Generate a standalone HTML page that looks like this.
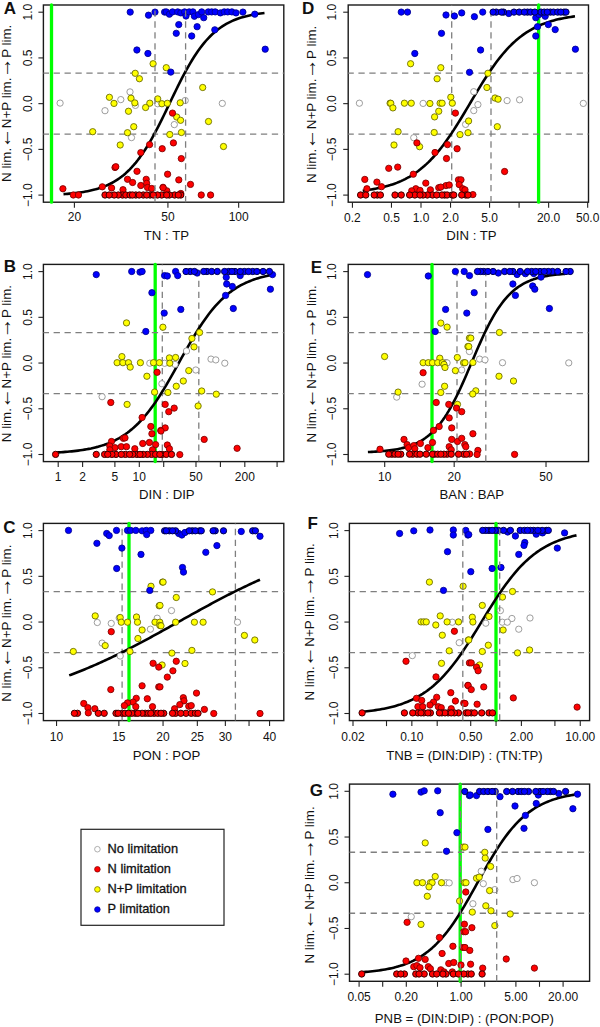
<!DOCTYPE html><html><head><meta charset="utf-8"><style>html,body{margin:0;padding:0;background:#fff;}svg{display:block}text{font-family:"Liberation Sans",sans-serif;fill:#111}</style></head><body>
<svg width="600" height="1027" viewBox="0 0 600 1027">
<rect x="43.4" y="5.0" width="240.4" height="197.2" fill="none" stroke="#1a1a1a" stroke-width="1.4"/>
<line x1="51.5" y1="5.0" x2="51.5" y2="202.2" stroke="#00ff00" stroke-width="3.3" stroke-linecap="round"/>
<line x1="43.4" y1="73.17" x2="283.8" y2="73.17" stroke="#7f7f7f" stroke-width="1.3" stroke-dasharray="6.3 4.61" stroke-dashoffset="0.7"/>
<line x1="43.4" y1="134.13" x2="283.8" y2="134.13" stroke="#7f7f7f" stroke-width="1.3" stroke-dasharray="6.3 4.61" stroke-dashoffset="0.7"/>
<polyline points="63.50,194.14 65.51,194.00 67.52,193.84 69.53,193.67 71.54,193.48 73.55,193.27 75.56,193.05 77.57,192.80 79.58,192.53 81.59,192.24 83.60,191.92 85.61,191.57 87.62,191.19 89.63,190.78 91.64,190.33 93.65,189.84 95.66,189.31 97.67,188.73 99.68,188.09 101.69,187.41 103.70,186.66 105.71,185.85 107.72,184.98 109.73,184.03 111.74,183.00 113.75,181.89 115.76,180.69 117.77,179.39 119.78,178.00 121.79,176.50 123.80,174.89 125.81,173.16 127.82,171.30 129.83,169.32 131.84,167.21 133.85,164.96 135.86,162.57 137.87,160.04 139.88,157.36 141.89,154.54 143.90,151.57 145.91,148.46 147.92,145.21 149.93,141.82 151.94,138.30 153.95,134.65 155.96,130.90 157.97,127.03 159.98,123.08 161.99,119.05 164.00,114.96 166.01,110.81 168.02,106.64 170.03,102.45 172.04,98.27 174.05,94.10 176.06,89.97 178.07,85.89 180.08,81.89 182.09,77.96 184.10,74.13 186.11,70.40 188.12,66.79 190.13,63.31 192.14,59.96 194.15,56.75 196.16,53.68 198.17,50.75 200.18,47.97 202.19,45.34 204.20,42.85 206.21,40.50 208.22,38.29 210.23,36.22 212.24,34.28 214.25,32.46 216.26,30.77 218.27,29.19 220.28,27.72 222.29,26.35 224.30,25.09 226.31,23.91 228.32,22.83 230.33,21.82 232.34,20.90 234.35,20.04 236.36,19.25 238.37,18.52 240.38,17.85 242.39,17.24 244.40,16.67 246.41,16.15 248.42,15.67 250.43,15.23 252.44,14.83 254.45,14.46 256.46,14.12 258.47,13.81 260.48,13.52 262.49,13.26 264.50,13.02" fill="none" stroke="#000" stroke-width="2.6" stroke-linecap="butt" stroke-linejoin="round"/>
<g><circle cx="130" cy="91.9" r="3.15" fill="#ffffff" stroke="#8c8c8c" stroke-width="0.85"/><circle cx="120.8" cy="99.6" r="3.15" fill="#ffffff" stroke="#8c8c8c" stroke-width="0.85"/><circle cx="60.1" cy="103.1" r="3.15" fill="#ffffff" stroke="#8c8c8c" stroke-width="0.85"/><circle cx="105" cy="110.7" r="3.15" fill="#ffffff" stroke="#8c8c8c" stroke-width="0.85"/><circle cx="135.4" cy="105.4" r="3.15" fill="#ffffff" stroke="#8c8c8c" stroke-width="0.85"/><circle cx="131.5" cy="137.6" r="3.15" fill="#ffffff" stroke="#8c8c8c" stroke-width="0.85"/><circle cx="157.7" cy="103.75" r="3.15" fill="#ffffff" stroke="#8c8c8c" stroke-width="0.85"/><circle cx="185.2" cy="100.5" r="3.15" fill="#ffffff" stroke="#8c8c8c" stroke-width="0.85"/><circle cx="222.3" cy="103.4" r="3.15" fill="#ffffff" stroke="#8c8c8c" stroke-width="0.85"/><circle cx="174.3" cy="124.6" r="3.15" fill="#ffffff" stroke="#8c8c8c" stroke-width="0.85"/><circle cx="153.1" cy="63.75" r="3.15" fill="#ffff00" stroke="#666600" stroke-width="0.85"/><circle cx="166.25" cy="67.7" r="3.15" fill="#ffff00" stroke="#666600" stroke-width="0.85"/><circle cx="135.2" cy="73.3" r="3.15" fill="#ffff00" stroke="#666600" stroke-width="0.85"/><circle cx="139.4" cy="78.75" r="3.15" fill="#ffff00" stroke="#666600" stroke-width="0.85"/><circle cx="109.4" cy="97.3" r="3.15" fill="#ffff00" stroke="#666600" stroke-width="0.85"/><circle cx="131" cy="98.2" r="3.15" fill="#ffff00" stroke="#666600" stroke-width="0.85"/><circle cx="114" cy="103.4" r="3.15" fill="#ffff00" stroke="#666600" stroke-width="0.85"/><circle cx="134.8" cy="102.9" r="3.15" fill="#ffff00" stroke="#666600" stroke-width="0.85"/><circle cx="149.8" cy="103.2" r="3.15" fill="#ffff00" stroke="#666600" stroke-width="0.85"/><circle cx="157.7" cy="98.9" r="3.15" fill="#ffff00" stroke="#666600" stroke-width="0.85"/><circle cx="161.9" cy="103.75" r="3.15" fill="#ffff00" stroke="#666600" stroke-width="0.85"/><circle cx="128.5" cy="111.25" r="3.15" fill="#ffff00" stroke="#666600" stroke-width="0.85"/><circle cx="145.6" cy="107.5" r="3.15" fill="#ffff00" stroke="#666600" stroke-width="0.85"/><circle cx="92.7" cy="131.7" r="3.15" fill="#ffff00" stroke="#666600" stroke-width="0.85"/><circle cx="133.75" cy="126.7" r="3.15" fill="#ffff00" stroke="#666600" stroke-width="0.85"/><circle cx="127.5" cy="132.7" r="3.15" fill="#ffff00" stroke="#666600" stroke-width="0.85"/><circle cx="120.2" cy="145" r="3.15" fill="#ffff00" stroke="#666600" stroke-width="0.85"/><circle cx="202.7" cy="87.5" r="3.15" fill="#ffff00" stroke="#666600" stroke-width="0.85"/><circle cx="180.2" cy="102.8" r="3.15" fill="#ffff00" stroke="#666600" stroke-width="0.85"/><circle cx="167.3" cy="103.3" r="3.15" fill="#ffff00" stroke="#666600" stroke-width="0.85"/><circle cx="176.7" cy="117" r="3.15" fill="#ffff00" stroke="#666600" stroke-width="0.85"/><circle cx="180.6" cy="120.3" r="3.15" fill="#ffff00" stroke="#666600" stroke-width="0.85"/><circle cx="208.5" cy="121.5" r="3.15" fill="#ffff00" stroke="#666600" stroke-width="0.85"/><circle cx="169.8" cy="134.5" r="3.15" fill="#ffff00" stroke="#666600" stroke-width="0.85"/><circle cx="181.4" cy="132.5" r="3.15" fill="#ffff00" stroke="#666600" stroke-width="0.85"/><circle cx="223.5" cy="146.5" r="3.15" fill="#ffff00" stroke="#666600" stroke-width="0.85"/><circle cx="62.9" cy="188.75" r="3.15" fill="#ff0000" stroke="#7a0000" stroke-width="0.85"/><circle cx="73.3" cy="195" r="3.15" fill="#ff0000" stroke="#7a0000" stroke-width="0.85"/><circle cx="78.5" cy="195" r="3.15" fill="#ff0000" stroke="#7a0000" stroke-width="0.85"/><circle cx="102.3" cy="186.8" r="3.15" fill="#ff0000" stroke="#7a0000" stroke-width="0.85"/><circle cx="111.6" cy="188" r="3.15" fill="#ff0000" stroke="#7a0000" stroke-width="0.85"/><circle cx="123" cy="189.7" r="3.15" fill="#ff0000" stroke="#7a0000" stroke-width="0.85"/><circle cx="127.5" cy="179.3" r="3.15" fill="#ff0000" stroke="#7a0000" stroke-width="0.85"/><circle cx="132.6" cy="182.5" r="3.15" fill="#ff0000" stroke="#7a0000" stroke-width="0.85"/><circle cx="137" cy="171.3" r="3.15" fill="#ff0000" stroke="#7a0000" stroke-width="0.85"/><circle cx="115" cy="167.5" r="3.15" fill="#ff0000" stroke="#7a0000" stroke-width="0.85"/><circle cx="115.8" cy="166.7" r="3.15" fill="#ff0000" stroke="#7a0000" stroke-width="0.85"/><circle cx="140.8" cy="152.6" r="3.15" fill="#ff0000" stroke="#7a0000" stroke-width="0.85"/><circle cx="149.6" cy="144.6" r="3.15" fill="#ff0000" stroke="#7a0000" stroke-width="0.85"/><circle cx="162.2" cy="148.7" r="3.15" fill="#ff0000" stroke="#7a0000" stroke-width="0.85"/><circle cx="146.2" cy="179.3" r="3.15" fill="#ff0000" stroke="#7a0000" stroke-width="0.85"/><circle cx="146.7" cy="183.3" r="3.15" fill="#ff0000" stroke="#7a0000" stroke-width="0.85"/><circle cx="140.8" cy="185.5" r="3.15" fill="#ff0000" stroke="#7a0000" stroke-width="0.85"/><circle cx="147.5" cy="187.5" r="3.15" fill="#ff0000" stroke="#7a0000" stroke-width="0.85"/><circle cx="151.7" cy="188.5" r="3.15" fill="#ff0000" stroke="#7a0000" stroke-width="0.85"/><circle cx="163" cy="187.3" r="3.15" fill="#ff0000" stroke="#7a0000" stroke-width="0.85"/><circle cx="166.8" cy="190.8" r="3.15" fill="#ff0000" stroke="#7a0000" stroke-width="0.85"/><circle cx="172.5" cy="113.1" r="3.15" fill="#ff0000" stroke="#7a0000" stroke-width="0.85"/><circle cx="173.4" cy="142.9" r="3.15" fill="#ff0000" stroke="#7a0000" stroke-width="0.85"/><circle cx="181.3" cy="158.6" r="3.15" fill="#ff0000" stroke="#7a0000" stroke-width="0.85"/><circle cx="167.6" cy="174.2" r="3.15" fill="#ff0000" stroke="#7a0000" stroke-width="0.85"/><circle cx="178.8" cy="179.9" r="3.15" fill="#ff0000" stroke="#7a0000" stroke-width="0.85"/><circle cx="190.5" cy="184.4" r="3.15" fill="#ff0000" stroke="#7a0000" stroke-width="0.85"/><circle cx="163.1" cy="187.7" r="3.15" fill="#ff0000" stroke="#7a0000" stroke-width="0.85"/><circle cx="180.8" cy="193.5" r="3.15" fill="#ff0000" stroke="#7a0000" stroke-width="0.85"/><circle cx="201.25" cy="195" r="3.15" fill="#ff0000" stroke="#7a0000" stroke-width="0.85"/><circle cx="210.6" cy="195" r="3.15" fill="#ff0000" stroke="#7a0000" stroke-width="0.85"/><circle cx="122.5" cy="195" r="3.15" fill="#ff0000" stroke="#3a0000" stroke-width="1.0"/><circle cx="118.3" cy="195" r="3.15" fill="#ff0000" stroke="#3a0000" stroke-width="1.0"/><circle cx="174.6" cy="195" r="3.15" fill="#ff0000" stroke="#3a0000" stroke-width="1.0"/><circle cx="143.3" cy="195" r="3.15" fill="#ff0000" stroke="#3a0000" stroke-width="1.0"/><circle cx="150" cy="195" r="3.15" fill="#ff0000" stroke="#3a0000" stroke-width="1.0"/><circle cx="161.7" cy="195" r="3.15" fill="#ff0000" stroke="#3a0000" stroke-width="1.0"/><circle cx="114.2" cy="195" r="3.15" fill="#ff0000" stroke="#3a0000" stroke-width="1.0"/><circle cx="105" cy="195" r="3.15" fill="#ff0000" stroke="#3a0000" stroke-width="1.0"/><circle cx="180.8" cy="195" r="3.15" fill="#ff0000" stroke="#3a0000" stroke-width="1.0"/><circle cx="169.4" cy="195" r="3.15" fill="#ff0000" stroke="#3a0000" stroke-width="1.0"/><circle cx="157.5" cy="195" r="3.15" fill="#ff0000" stroke="#3a0000" stroke-width="1.0"/><circle cx="125.8" cy="195" r="3.15" fill="#ff0000" stroke="#3a0000" stroke-width="1.0"/><circle cx="135.8" cy="195" r="3.15" fill="#ff0000" stroke="#3a0000" stroke-width="1.0"/><circle cx="166.7" cy="195" r="3.15" fill="#ff0000" stroke="#3a0000" stroke-width="1.0"/><circle cx="146.7" cy="195" r="3.15" fill="#ff0000" stroke="#3a0000" stroke-width="1.0"/><circle cx="153.3" cy="195" r="3.15" fill="#ff0000" stroke="#3a0000" stroke-width="1.0"/><circle cx="139.2" cy="195" r="3.15" fill="#ff0000" stroke="#3a0000" stroke-width="1.0"/><circle cx="109.2" cy="195" r="3.15" fill="#ff0000" stroke="#3a0000" stroke-width="1.0"/><circle cx="130" cy="195" r="3.15" fill="#ff0000" stroke="#3a0000" stroke-width="1.0"/><circle cx="178.3" cy="195" r="3.15" fill="#ff0000" stroke="#3a0000" stroke-width="1.0"/><circle cx="132.5" cy="195" r="3.15" fill="#ff0000" stroke="#3a0000" stroke-width="1.0"/><circle cx="130.2" cy="12.1" r="3.15" fill="#0000ff" stroke="#000090" stroke-width="0.85"/><circle cx="148.5" cy="15.2" r="3.15" fill="#0000ff" stroke="#000090" stroke-width="0.85"/><circle cx="155" cy="12.1" r="3.15" fill="#0000ff" stroke="#000090" stroke-width="0.85"/><circle cx="164.6" cy="12.1" r="3.15" fill="#0000ff" stroke="#000090" stroke-width="0.85"/><circle cx="136.9" cy="50" r="3.15" fill="#0000ff" stroke="#000090" stroke-width="0.85"/><circle cx="147.9" cy="53.5" r="3.15" fill="#0000ff" stroke="#000090" stroke-width="0.85"/><circle cx="166.25" cy="11.9" r="3.15" fill="#0000ff" stroke="#000090" stroke-width="0.85"/><circle cx="169.4" cy="14.2" r="3.15" fill="#0000ff" stroke="#000090" stroke-width="0.85"/><circle cx="172.5" cy="11.9" r="3.15" fill="#0000ff" stroke="#000090" stroke-width="0.85"/><circle cx="177.7" cy="11.9" r="3.15" fill="#0000ff" stroke="#000090" stroke-width="0.85"/><circle cx="180.8" cy="12.9" r="3.15" fill="#0000ff" stroke="#000090" stroke-width="0.85"/><circle cx="184.6" cy="11.9" r="3.15" fill="#0000ff" stroke="#000090" stroke-width="0.85"/><circle cx="186" cy="16" r="3.15" fill="#0000ff" stroke="#000090" stroke-width="0.85"/><circle cx="189.2" cy="11.9" r="3.15" fill="#0000ff" stroke="#000090" stroke-width="0.85"/><circle cx="192.9" cy="11.9" r="3.15" fill="#0000ff" stroke="#000090" stroke-width="0.85"/><circle cx="194.4" cy="16.25" r="3.15" fill="#0000ff" stroke="#000090" stroke-width="0.85"/><circle cx="198.5" cy="14.6" r="3.15" fill="#0000ff" stroke="#000090" stroke-width="0.85"/><circle cx="201.7" cy="11.9" r="3.15" fill="#0000ff" stroke="#000090" stroke-width="0.85"/><circle cx="203.75" cy="17.7" r="3.15" fill="#0000ff" stroke="#000090" stroke-width="0.85"/><circle cx="208.3" cy="11.9" r="3.15" fill="#0000ff" stroke="#000090" stroke-width="0.85"/><circle cx="211.7" cy="11.9" r="3.15" fill="#0000ff" stroke="#000090" stroke-width="0.85"/><circle cx="215.2" cy="11.9" r="3.15" fill="#0000ff" stroke="#000090" stroke-width="0.85"/><circle cx="220.4" cy="12.9" r="3.15" fill="#0000ff" stroke="#000090" stroke-width="0.85"/><circle cx="224.2" cy="11.9" r="3.15" fill="#0000ff" stroke="#000090" stroke-width="0.85"/><circle cx="227.7" cy="11.9" r="3.15" fill="#0000ff" stroke="#000090" stroke-width="0.85"/><circle cx="231.9" cy="11.9" r="3.15" fill="#0000ff" stroke="#000090" stroke-width="0.85"/><circle cx="236" cy="12.9" r="3.15" fill="#0000ff" stroke="#000090" stroke-width="0.85"/><circle cx="242.9" cy="12.1" r="3.15" fill="#0000ff" stroke="#000090" stroke-width="0.85"/><circle cx="254.8" cy="14.2" r="3.15" fill="#0000ff" stroke="#000090" stroke-width="0.85"/><circle cx="178.75" cy="24.6" r="3.15" fill="#0000ff" stroke="#000090" stroke-width="0.85"/><circle cx="197.1" cy="26.7" r="3.15" fill="#0000ff" stroke="#000090" stroke-width="0.85"/><circle cx="176.25" cy="33.3" r="3.15" fill="#0000ff" stroke="#000090" stroke-width="0.85"/><circle cx="191.7" cy="36" r="3.15" fill="#0000ff" stroke="#000090" stroke-width="0.85"/><circle cx="214.8" cy="29.8" r="3.15" fill="#0000ff" stroke="#000090" stroke-width="0.85"/><circle cx="265.2" cy="49.2" r="3.15" fill="#0000ff" stroke="#000090" stroke-width="0.85"/><circle cx="170.8" cy="72.1" r="3.15" fill="#0000ff" stroke="#000090" stroke-width="0.85"/></g>
<line x1="155.0" y1="202.2" x2="155.0" y2="5.0" stroke="#7f7f7f" stroke-width="1.3" stroke-dasharray="6.3 4.61" stroke-dashoffset="0"/>
<line x1="185.6" y1="202.2" x2="185.6" y2="5.0" stroke="#7f7f7f" stroke-width="1.3" stroke-dasharray="6.3 4.61" stroke-dashoffset="0"/>
<line x1="38.4" y1="12.20" x2="43.4" y2="12.20" stroke="#222" stroke-width="1.1"/>
<text transform="translate(31.65,12.20) rotate(-90)" text-anchor="middle" font-size="12">1.0</text>
<line x1="38.4" y1="57.92" x2="43.4" y2="57.92" stroke="#222" stroke-width="1.1"/>
<text transform="translate(31.65,57.92) rotate(-90)" text-anchor="middle" font-size="12">0.5</text>
<line x1="38.4" y1="103.65" x2="43.4" y2="103.65" stroke="#222" stroke-width="1.1"/>
<text transform="translate(31.65,103.65) rotate(-90)" text-anchor="middle" font-size="12">0.0</text>
<line x1="38.4" y1="149.38" x2="43.4" y2="149.38" stroke="#222" stroke-width="1.1"/>
<text transform="translate(31.65,149.38) rotate(-90)" text-anchor="middle" font-size="12">−0.5</text>
<line x1="38.4" y1="195.10" x2="43.4" y2="195.10" stroke="#222" stroke-width="1.1"/>
<text transform="translate(31.65,195.10) rotate(-90)" text-anchor="middle" font-size="12">−1.0</text>
<text transform="translate(11.00,103.35) rotate(-90)" text-anchor="middle" font-size="13.35">N lim. <tspan font-family="Liberation Mono" font-size="20.5">←</tspan> N+P lim. <tspan font-family="Liberation Mono" font-size="20.5">→</tspan> P lim.</text>
<text x="3.83" y="13.75" font-size="17" font-weight="bold">A</text>
<line x1="74.40" y1="202.2" x2="74.40" y2="207.7" stroke="#222" stroke-width="1.1"/>
<text x="74.40" y="221.20" text-anchor="middle" font-size="12">20</text>
<line x1="167.92" y1="202.2" x2="167.92" y2="207.7" stroke="#222" stroke-width="1.1"/>
<text x="167.92" y="221.20" text-anchor="middle" font-size="12">50</text>
<line x1="238.66" y1="202.2" x2="238.66" y2="207.7" stroke="#222" stroke-width="1.1"/>
<text x="238.66" y="221.20" text-anchor="middle" font-size="12">100</text>
<text x="166.40" y="239.70" text-anchor="middle" font-size="13.2">TN : TP</text>
<rect x="43.4" y="264.4" width="240.4" height="197.2" fill="none" stroke="#1a1a1a" stroke-width="1.4"/>
<line x1="155.2" y1="264.4" x2="155.2" y2="461.59999999999997" stroke="#00ff00" stroke-width="3.3" stroke-linecap="round"/>
<line x1="43.4" y1="332.57" x2="283.8" y2="332.57" stroke="#7f7f7f" stroke-width="1.3" stroke-dasharray="6.3 4.61" stroke-dashoffset="0.7"/>
<line x1="43.4" y1="393.53" x2="283.8" y2="393.53" stroke="#7f7f7f" stroke-width="1.3" stroke-dasharray="6.3 4.61" stroke-dashoffset="0.7"/>
<line x1="162.3" y1="461.59999999999997" x2="162.3" y2="264.4" stroke="#7f7f7f" stroke-width="1.3" stroke-dasharray="6.3 4.61" stroke-dashoffset="0"/>
<line x1="198.8" y1="461.59999999999997" x2="198.8" y2="264.4" stroke="#7f7f7f" stroke-width="1.3" stroke-dasharray="6.3 4.61" stroke-dashoffset="0"/>
<polyline points="56.70,452.51 58.84,452.38 60.99,452.24 63.13,452.09 65.27,451.92 67.42,451.74 69.56,451.55 71.70,451.34 73.84,451.11 75.99,450.86 78.13,450.59 80.27,450.29 82.42,449.98 84.56,449.63 86.70,449.26 88.84,448.85 90.99,448.42 93.13,447.94 95.27,447.43 97.42,446.88 99.56,446.28 101.70,445.63 103.85,444.94 105.99,444.18 108.13,443.37 110.28,442.50 112.42,441.56 114.56,440.55 116.70,439.46 118.85,438.29 120.99,437.04 123.13,435.70 125.28,434.27 127.42,432.74 129.56,431.11 131.70,429.37 133.85,427.52 135.99,425.55 138.13,423.47 140.28,421.27 142.42,418.95 144.56,416.50 146.71,413.93 148.85,411.23 150.99,408.41 153.13,405.47 155.28,402.41 157.42,399.23 159.56,395.95 161.71,392.56 163.85,389.07 165.99,385.50 168.14,381.85 170.28,378.13 172.42,374.36 174.56,370.55 176.71,366.71 178.85,362.85 180.99,358.98 183.14,355.13 185.28,351.31 187.42,347.52 189.57,343.78 191.71,340.11 193.85,336.50 196.00,332.98 198.14,329.56 200.28,326.23 202.42,323.01 204.57,319.91 206.71,316.92 208.85,314.05 211.00,311.31 213.14,308.69 215.28,306.20 217.43,303.83 219.57,301.58 221.71,299.45 223.85,297.45 226.00,295.55 228.14,293.77 230.28,292.10 232.43,290.53 234.57,289.07 236.71,287.69 238.86,286.41 241.00,285.21 243.14,284.09 245.28,283.05 247.43,282.09 249.57,281.19 251.71,280.35 253.86,279.58 256.00,278.86 258.14,278.20 260.29,277.58 262.43,277.01 264.57,276.48 266.71,276.00 268.86,275.55 271.00,275.13" fill="none" stroke="#000" stroke-width="2.6" stroke-linecap="butt" stroke-linejoin="round"/>
<g><circle cx="149.8" cy="363.2" r="3.15" fill="#ffffff" stroke="#8c8c8c" stroke-width="0.85"/><circle cx="102.1" cy="396.7" r="3.15" fill="#ffffff" stroke="#8c8c8c" stroke-width="0.85"/><circle cx="161.9" cy="383.75" r="3.15" fill="#ffffff" stroke="#8c8c8c" stroke-width="0.85"/><circle cx="186.5" cy="351" r="3.15" fill="#ffffff" stroke="#8c8c8c" stroke-width="0.85"/><circle cx="211" cy="359.1" r="3.15" fill="#ffffff" stroke="#8c8c8c" stroke-width="0.85"/><circle cx="215.8" cy="359.9" r="3.15" fill="#ffffff" stroke="#8c8c8c" stroke-width="0.85"/><circle cx="224.8" cy="363.2" r="3.15" fill="#ffffff" stroke="#8c8c8c" stroke-width="0.85"/><circle cx="164.6" cy="363.3" r="3.15" fill="#ffffff" stroke="#8c8c8c" stroke-width="0.85"/><circle cx="175" cy="364.4" r="3.15" fill="#ffffff" stroke="#8c8c8c" stroke-width="0.85"/><circle cx="195.8" cy="370" r="3.15" fill="#ffffff" stroke="#8c8c8c" stroke-width="0.85"/><circle cx="126.5" cy="322.9" r="3.15" fill="#ffff00" stroke="#666600" stroke-width="0.85"/><circle cx="162.9" cy="327.2" r="3.15" fill="#ffff00" stroke="#666600" stroke-width="0.85"/><circle cx="121.9" cy="356.6" r="3.15" fill="#ffff00" stroke="#666600" stroke-width="0.85"/><circle cx="117.1" cy="362.7" r="3.15" fill="#ffff00" stroke="#666600" stroke-width="0.85"/><circle cx="122.9" cy="362.7" r="3.15" fill="#ffff00" stroke="#666600" stroke-width="0.85"/><circle cx="128.5" cy="362.7" r="3.15" fill="#ffff00" stroke="#666600" stroke-width="0.85"/><circle cx="130.2" cy="367.1" r="3.15" fill="#ffff00" stroke="#666600" stroke-width="0.85"/><circle cx="140.4" cy="362.7" r="3.15" fill="#ffff00" stroke="#666600" stroke-width="0.85"/><circle cx="153.5" cy="362.7" r="3.15" fill="#ffff00" stroke="#666600" stroke-width="0.85"/><circle cx="159.4" cy="362.7" r="3.15" fill="#ffff00" stroke="#666600" stroke-width="0.85"/><circle cx="146.9" cy="376.25" r="3.15" fill="#ffff00" stroke="#666600" stroke-width="0.85"/><circle cx="154.6" cy="392.1" r="3.15" fill="#ffff00" stroke="#666600" stroke-width="0.85"/><circle cx="127.1" cy="404.4" r="3.15" fill="#ffff00" stroke="#666600" stroke-width="0.85"/><circle cx="199.6" cy="332.5" r="3.15" fill="#ffff00" stroke="#666600" stroke-width="0.85"/><circle cx="191.9" cy="338.5" r="3.15" fill="#ffff00" stroke="#666600" stroke-width="0.85"/><circle cx="194" cy="346.9" r="3.15" fill="#ffff00" stroke="#666600" stroke-width="0.85"/><circle cx="169.4" cy="357.9" r="3.15" fill="#ffff00" stroke="#666600" stroke-width="0.85"/><circle cx="175.6" cy="357.5" r="3.15" fill="#ffff00" stroke="#666600" stroke-width="0.85"/><circle cx="169.8" cy="363.2" r="3.15" fill="#ffff00" stroke="#666600" stroke-width="0.85"/><circle cx="188.75" cy="370.6" r="3.15" fill="#ffff00" stroke="#666600" stroke-width="0.85"/><circle cx="183.3" cy="381" r="3.15" fill="#ffff00" stroke="#666600" stroke-width="0.85"/><circle cx="176.25" cy="386.25" r="3.15" fill="#ffff00" stroke="#666600" stroke-width="0.85"/><circle cx="167.9" cy="392.5" r="3.15" fill="#ffff00" stroke="#666600" stroke-width="0.85"/><circle cx="201.7" cy="391" r="3.15" fill="#ffff00" stroke="#666600" stroke-width="0.85"/><circle cx="216.25" cy="394.2" r="3.15" fill="#ffff00" stroke="#666600" stroke-width="0.85"/><circle cx="198.1" cy="406" r="3.15" fill="#ffff00" stroke="#666600" stroke-width="0.85"/><circle cx="157.1" cy="372.3" r="3.15" fill="#ff0000" stroke="#7a0000" stroke-width="0.85"/><circle cx="110.8" cy="402.5" r="3.15" fill="#ff0000" stroke="#7a0000" stroke-width="0.85"/><circle cx="142.1" cy="417.5" r="3.15" fill="#ff0000" stroke="#7a0000" stroke-width="0.85"/><circle cx="150.8" cy="426.5" r="3.15" fill="#ff0000" stroke="#7a0000" stroke-width="0.85"/><circle cx="151.9" cy="433.75" r="3.15" fill="#ff0000" stroke="#7a0000" stroke-width="0.85"/><circle cx="160.8" cy="430.4" r="3.15" fill="#ff0000" stroke="#7a0000" stroke-width="0.85"/><circle cx="123.3" cy="438.3" r="3.15" fill="#ff0000" stroke="#7a0000" stroke-width="0.85"/><circle cx="125" cy="437.9" r="3.15" fill="#ff0000" stroke="#7a0000" stroke-width="0.85"/><circle cx="111.5" cy="441.5" r="3.15" fill="#ff0000" stroke="#7a0000" stroke-width="0.85"/><circle cx="142.7" cy="443.5" r="3.15" fill="#ff0000" stroke="#7a0000" stroke-width="0.85"/><circle cx="149.4" cy="442.5" r="3.15" fill="#ff0000" stroke="#7a0000" stroke-width="0.85"/><circle cx="155.6" cy="444.6" r="3.15" fill="#ff0000" stroke="#7a0000" stroke-width="0.85"/><circle cx="109.8" cy="446" r="3.15" fill="#ff0000" stroke="#7a0000" stroke-width="0.85"/><circle cx="115" cy="447.7" r="3.15" fill="#ff0000" stroke="#7a0000" stroke-width="0.85"/><circle cx="121.25" cy="446.7" r="3.15" fill="#ff0000" stroke="#7a0000" stroke-width="0.85"/><circle cx="126.5" cy="446.7" r="3.15" fill="#ff0000" stroke="#7a0000" stroke-width="0.85"/><circle cx="134.8" cy="448.75" r="3.15" fill="#ff0000" stroke="#7a0000" stroke-width="0.85"/><circle cx="152.5" cy="449.8" r="3.15" fill="#ff0000" stroke="#7a0000" stroke-width="0.85"/><circle cx="109.8" cy="449.8" r="3.15" fill="#ff0000" stroke="#7a0000" stroke-width="0.85"/><circle cx="165.2" cy="404.4" r="3.15" fill="#ff0000" stroke="#7a0000" stroke-width="0.85"/><circle cx="174.2" cy="408.1" r="3.15" fill="#ff0000" stroke="#7a0000" stroke-width="0.85"/><circle cx="168.75" cy="411.7" r="3.15" fill="#ff0000" stroke="#7a0000" stroke-width="0.85"/><circle cx="165.2" cy="427.9" r="3.15" fill="#ff0000" stroke="#7a0000" stroke-width="0.85"/><circle cx="161" cy="431" r="3.15" fill="#ff0000" stroke="#7a0000" stroke-width="0.85"/><circle cx="204.2" cy="439.4" r="3.15" fill="#ff0000" stroke="#7a0000" stroke-width="0.85"/><circle cx="237.1" cy="448.3" r="3.15" fill="#ff0000" stroke="#7a0000" stroke-width="0.85"/><circle cx="167.3" cy="445" r="3.15" fill="#ff0000" stroke="#7a0000" stroke-width="0.85"/><circle cx="169.4" cy="448.75" r="3.15" fill="#ff0000" stroke="#7a0000" stroke-width="0.85"/><circle cx="179.8" cy="454.6" r="3.15" fill="#ff0000" stroke="#7a0000" stroke-width="0.85"/><circle cx="151.5" cy="454.4" r="3.15" fill="#ff0000" stroke="#3a0000" stroke-width="1.0"/><circle cx="147.3" cy="454.4" r="3.15" fill="#ff0000" stroke="#3a0000" stroke-width="1.0"/><circle cx="143.1" cy="454.4" r="3.15" fill="#ff0000" stroke="#3a0000" stroke-width="1.0"/><circle cx="162.1" cy="454.4" r="3.15" fill="#ff0000" stroke="#3a0000" stroke-width="1.0"/><circle cx="125.4" cy="454.4" r="3.15" fill="#ff0000" stroke="#3a0000" stroke-width="1.0"/><circle cx="96.25" cy="454.4" r="3.15" fill="#ff0000" stroke="#3a0000" stroke-width="1.0"/><circle cx="136.9" cy="454.4" r="3.15" fill="#ff0000" stroke="#3a0000" stroke-width="1.0"/><circle cx="116" cy="454.4" r="3.15" fill="#ff0000" stroke="#3a0000" stroke-width="1.0"/><circle cx="155.6" cy="454.4" r="3.15" fill="#ff0000" stroke="#3a0000" stroke-width="1.0"/><circle cx="166.25" cy="454.4" r="3.15" fill="#ff0000" stroke="#3a0000" stroke-width="1.0"/><circle cx="55.6" cy="454.4" r="3.15" fill="#ff0000" stroke="#3a0000" stroke-width="1.0"/><circle cx="132.7" cy="454.4" r="3.15" fill="#ff0000" stroke="#3a0000" stroke-width="1.0"/><circle cx="171.5" cy="454.4" r="3.15" fill="#ff0000" stroke="#3a0000" stroke-width="1.0"/><circle cx="104.6" cy="454.4" r="3.15" fill="#ff0000" stroke="#3a0000" stroke-width="1.0"/><circle cx="121.25" cy="454.4" r="3.15" fill="#ff0000" stroke="#3a0000" stroke-width="1.0"/><circle cx="111.9" cy="454.4" r="3.15" fill="#ff0000" stroke="#3a0000" stroke-width="1.0"/><circle cx="140" cy="454.4" r="3.15" fill="#ff0000" stroke="#3a0000" stroke-width="1.0"/><circle cx="159.8" cy="454.4" r="3.15" fill="#ff0000" stroke="#3a0000" stroke-width="1.0"/><circle cx="107.7" cy="454.4" r="3.15" fill="#ff0000" stroke="#3a0000" stroke-width="1.0"/><circle cx="129.6" cy="454.4" r="3.15" fill="#ff0000" stroke="#3a0000" stroke-width="1.0"/><circle cx="96.25" cy="274.6" r="3.15" fill="#0000ff" stroke="#000090" stroke-width="0.85"/><circle cx="131.7" cy="271.5" r="3.15" fill="#0000ff" stroke="#000090" stroke-width="0.85"/><circle cx="140" cy="272.1" r="3.15" fill="#0000ff" stroke="#000090" stroke-width="0.85"/><circle cx="142.1" cy="271.5" r="3.15" fill="#0000ff" stroke="#000090" stroke-width="0.85"/><circle cx="151.9" cy="292.7" r="3.15" fill="#0000ff" stroke="#000090" stroke-width="0.85"/><circle cx="164.6" cy="275.6" r="3.15" fill="#0000ff" stroke="#000090" stroke-width="0.85"/><circle cx="164.2" cy="313.1" r="3.15" fill="#0000ff" stroke="#000090" stroke-width="0.85"/><circle cx="145.8" cy="331.5" r="3.15" fill="#0000ff" stroke="#000090" stroke-width="0.85"/><circle cx="167.3" cy="276" r="3.15" fill="#0000ff" stroke="#000090" stroke-width="0.85"/><circle cx="175.6" cy="271.5" r="3.15" fill="#0000ff" stroke="#000090" stroke-width="0.85"/><circle cx="177.7" cy="275.6" r="3.15" fill="#0000ff" stroke="#000090" stroke-width="0.85"/><circle cx="197.1" cy="273" r="3.15" fill="#0000ff" stroke="#000090" stroke-width="0.85"/><circle cx="272.5" cy="274.6" r="3.15" fill="#0000ff" stroke="#000090" stroke-width="0.85"/><circle cx="226.25" cy="277.3" r="3.15" fill="#0000ff" stroke="#000090" stroke-width="0.85"/><circle cx="240.2" cy="275.6" r="3.15" fill="#0000ff" stroke="#000090" stroke-width="0.85"/><circle cx="226.7" cy="284" r="3.15" fill="#0000ff" stroke="#000090" stroke-width="0.85"/><circle cx="232.3" cy="286.5" r="3.15" fill="#0000ff" stroke="#000090" stroke-width="0.85"/><circle cx="225.6" cy="295.4" r="3.15" fill="#0000ff" stroke="#000090" stroke-width="0.85"/><circle cx="270.4" cy="289.2" r="3.15" fill="#0000ff" stroke="#000090" stroke-width="0.85"/><circle cx="180.8" cy="309.4" r="3.15" fill="#0000ff" stroke="#000090" stroke-width="0.85"/><circle cx="233.3" cy="308.5" r="3.15" fill="#0000ff" stroke="#000090" stroke-width="0.85"/><circle cx="228.75" cy="271.5" r="3.15" fill="#0000ff" stroke="#000050" stroke-width="1.0"/><circle cx="190.2" cy="271.5" r="3.15" fill="#0000ff" stroke="#000050" stroke-width="1.0"/><circle cx="263.1" cy="271.5" r="3.15" fill="#0000ff" stroke="#000050" stroke-width="1.0"/><circle cx="194.4" cy="271.5" r="3.15" fill="#0000ff" stroke="#000050" stroke-width="1.0"/><circle cx="206.9" cy="271.5" r="3.15" fill="#0000ff" stroke="#000050" stroke-width="1.0"/><circle cx="244.4" cy="271.5" r="3.15" fill="#0000ff" stroke="#000050" stroke-width="1.0"/><circle cx="211.7" cy="271.5" r="3.15" fill="#0000ff" stroke="#000050" stroke-width="1.0"/><circle cx="235" cy="271.5" r="3.15" fill="#0000ff" stroke="#000050" stroke-width="1.0"/><circle cx="252.7" cy="271.5" r="3.15" fill="#0000ff" stroke="#000050" stroke-width="1.0"/><circle cx="224.6" cy="271.5" r="3.15" fill="#0000ff" stroke="#000050" stroke-width="1.0"/><circle cx="231.9" cy="271.5" r="3.15" fill="#0000ff" stroke="#000050" stroke-width="1.0"/><circle cx="256.9" cy="271.5" r="3.15" fill="#0000ff" stroke="#000050" stroke-width="1.0"/><circle cx="240.2" cy="271.5" r="3.15" fill="#0000ff" stroke="#000050" stroke-width="1.0"/><circle cx="203.75" cy="271.5" r="3.15" fill="#0000ff" stroke="#000050" stroke-width="1.0"/><circle cx="269.4" cy="271.5" r="3.15" fill="#0000ff" stroke="#000050" stroke-width="1.0"/><circle cx="186" cy="271.5" r="3.15" fill="#0000ff" stroke="#000050" stroke-width="1.0"/><circle cx="217.3" cy="271.5" r="3.15" fill="#0000ff" stroke="#000050" stroke-width="1.0"/><circle cx="248.5" cy="271.5" r="3.15" fill="#0000ff" stroke="#000050" stroke-width="1.0"/></g>
<line x1="38.4" y1="271.60" x2="43.4" y2="271.60" stroke="#222" stroke-width="1.1"/>
<text transform="translate(31.65,271.60) rotate(-90)" text-anchor="middle" font-size="12">1.0</text>
<line x1="38.4" y1="317.32" x2="43.4" y2="317.32" stroke="#222" stroke-width="1.1"/>
<text transform="translate(31.65,317.32) rotate(-90)" text-anchor="middle" font-size="12">0.5</text>
<line x1="38.4" y1="363.05" x2="43.4" y2="363.05" stroke="#222" stroke-width="1.1"/>
<text transform="translate(31.65,363.05) rotate(-90)" text-anchor="middle" font-size="12">0.0</text>
<line x1="38.4" y1="408.77" x2="43.4" y2="408.77" stroke="#222" stroke-width="1.1"/>
<text transform="translate(31.65,408.77) rotate(-90)" text-anchor="middle" font-size="12">−0.5</text>
<line x1="38.4" y1="454.50" x2="43.4" y2="454.50" stroke="#222" stroke-width="1.1"/>
<text transform="translate(31.65,454.50) rotate(-90)" text-anchor="middle" font-size="12">−1.0</text>
<text transform="translate(11.00,363.60) rotate(-90)" text-anchor="middle" font-size="13.35">N lim. <tspan font-family="Liberation Mono" font-size="20.5">←</tspan> N+P lim. <tspan font-family="Liberation Mono" font-size="20.5">→</tspan> P lim.</text>
<text x="3.86" y="271.75" font-size="17" font-weight="bold">B</text>
<line x1="58.20" y1="461.59999999999997" x2="58.20" y2="467.09999999999997" stroke="#222" stroke-width="1.1"/>
<text x="58.20" y="480.90" text-anchor="middle" font-size="12">1</text>
<line x1="82.61" y1="461.59999999999997" x2="82.61" y2="467.09999999999997" stroke="#222" stroke-width="1.1"/>
<text x="82.61" y="480.90" text-anchor="middle" font-size="12">2</text>
<line x1="114.89" y1="461.59999999999997" x2="114.89" y2="467.09999999999997" stroke="#222" stroke-width="1.1"/>
<text x="114.89" y="480.90" text-anchor="middle" font-size="12">5</text>
<line x1="139.30" y1="461.59999999999997" x2="139.30" y2="467.09999999999997" stroke="#222" stroke-width="1.1"/>
<text x="139.30" y="480.90" text-anchor="middle" font-size="12">10</text>
<line x1="163.71" y1="461.59999999999997" x2="163.71" y2="467.09999999999997" stroke="#222" stroke-width="1.1"/>
<line x1="195.99" y1="461.59999999999997" x2="195.99" y2="467.09999999999997" stroke="#222" stroke-width="1.1"/>
<text x="195.99" y="480.90" text-anchor="middle" font-size="12">50</text>
<line x1="220.40" y1="461.59999999999997" x2="220.40" y2="467.09999999999997" stroke="#222" stroke-width="1.1"/>
<line x1="244.81" y1="461.59999999999997" x2="244.81" y2="467.09999999999997" stroke="#222" stroke-width="1.1"/>
<text x="244.81" y="480.90" text-anchor="middle" font-size="12">200</text>
<line x1="277.09" y1="461.59999999999997" x2="277.09" y2="467.09999999999997" stroke="#222" stroke-width="1.1"/>
<text x="166.80" y="499.20" text-anchor="middle" font-size="13.2">DIN : DIP</text>
<rect x="43.4" y="523.4" width="240.4" height="197.19999999999993" fill="none" stroke="#1a1a1a" stroke-width="1.4"/>
<line x1="129.0" y1="523.4" x2="129.0" y2="720.5999999999999" stroke="#00ff00" stroke-width="3.3" stroke-linecap="round"/>
<line x1="43.4" y1="591.57" x2="283.8" y2="591.57" stroke="#7f7f7f" stroke-width="1.3" stroke-dasharray="6.3 4.61" stroke-dashoffset="0.7"/>
<line x1="43.4" y1="652.53" x2="283.8" y2="652.53" stroke="#7f7f7f" stroke-width="1.3" stroke-dasharray="6.3 4.61" stroke-dashoffset="0.7"/>
<line x1="122.1" y1="720.5999999999999" x2="122.1" y2="523.4" stroke="#7f7f7f" stroke-width="1.3" stroke-dasharray="6.3 4.61" stroke-dashoffset="0"/>
<line x1="235.4" y1="720.5999999999999" x2="235.4" y2="523.4" stroke="#7f7f7f" stroke-width="1.3" stroke-dasharray="6.3 4.61" stroke-dashoffset="0"/>
<polyline points="69.20,675.40 71.11,674.69 73.02,673.97 74.92,673.24 76.83,672.50 78.74,671.76 80.65,671.00 82.56,670.23 84.46,669.45 86.37,668.67 88.28,667.87 90.19,667.07 92.10,666.25 94.00,665.43 95.91,664.60 97.82,663.75 99.73,662.90 101.64,662.04 103.54,661.17 105.45,660.30 107.36,659.41 109.27,658.52 111.18,657.61 113.08,656.70 114.99,655.78 116.90,654.86 118.81,653.92 120.72,652.98 122.62,652.03 124.53,651.07 126.44,650.10 128.35,649.13 130.26,648.15 132.16,647.17 134.07,646.18 135.98,645.18 137.89,644.18 139.80,643.17 141.70,642.15 143.61,641.13 145.52,640.11 147.43,639.08 149.34,638.05 151.24,637.01 153.15,635.97 155.06,634.92 156.97,633.87 158.88,632.82 160.78,631.76 162.69,630.71 164.60,629.65 166.51,628.58 168.42,627.52 170.32,626.45 172.23,625.39 174.14,624.32 176.05,623.25 177.96,622.18 179.86,621.11 181.77,620.04 183.68,618.98 185.59,617.91 187.50,616.84 189.40,615.78 191.31,614.72 193.22,613.66 195.13,612.60 197.04,611.54 198.94,610.49 200.85,609.44 202.76,608.39 204.67,607.35 206.58,606.31 208.48,605.27 210.39,604.24 212.30,603.22 214.21,602.20 216.12,601.18 218.02,600.17 219.93,599.17 221.84,598.17 223.75,597.17 225.66,596.19 227.56,595.21 229.47,594.23 231.38,593.27 233.29,592.31 235.20,591.36 237.10,590.41 239.01,589.47 240.92,588.55 242.83,587.62 244.74,586.71 246.64,585.81 248.55,584.91 250.46,584.02 252.37,583.14 254.28,582.27 256.18,581.41 258.09,580.55 260.00,579.71" fill="none" stroke="#000" stroke-width="2.6" stroke-linecap="butt" stroke-linejoin="round"/>
<g><circle cx="119.2" cy="618" r="3.15" fill="#ffffff" stroke="#8c8c8c" stroke-width="0.85"/><circle cx="97.3" cy="622.5" r="3.15" fill="#ffffff" stroke="#8c8c8c" stroke-width="0.85"/><circle cx="111.25" cy="623.4" r="3.15" fill="#ffffff" stroke="#8c8c8c" stroke-width="0.85"/><circle cx="157.2" cy="618.2" r="3.15" fill="#ffffff" stroke="#8c8c8c" stroke-width="0.85"/><circle cx="171.5" cy="610.6" r="3.15" fill="#ffffff" stroke="#8c8c8c" stroke-width="0.85"/><circle cx="237.5" cy="622.2" r="3.15" fill="#ffffff" stroke="#8c8c8c" stroke-width="0.85"/><circle cx="102.1" cy="643.1" r="3.15" fill="#ffffff" stroke="#8c8c8c" stroke-width="0.85"/><circle cx="120.2" cy="656" r="3.15" fill="#ffffff" stroke="#8c8c8c" stroke-width="0.85"/><circle cx="150.4" cy="629.2" r="3.15" fill="#ffffff" stroke="#8c8c8c" stroke-width="0.85"/><circle cx="151" cy="586.25" r="3.15" fill="#ffff00" stroke="#666600" stroke-width="0.85"/><circle cx="162.5" cy="582.1" r="3.15" fill="#ffff00" stroke="#666600" stroke-width="0.85"/><circle cx="159.2" cy="605.8" r="3.15" fill="#ffff00" stroke="#666600" stroke-width="0.85"/><circle cx="95.2" cy="615.9" r="3.15" fill="#ffff00" stroke="#666600" stroke-width="0.85"/><circle cx="120.2" cy="617.5" r="3.15" fill="#ffff00" stroke="#666600" stroke-width="0.85"/><circle cx="136.5" cy="617" r="3.15" fill="#ffff00" stroke="#666600" stroke-width="0.85"/><circle cx="121.25" cy="622.2" r="3.15" fill="#ffff00" stroke="#666600" stroke-width="0.85"/><circle cx="127.5" cy="622.2" r="3.15" fill="#ffff00" stroke="#666600" stroke-width="0.85"/><circle cx="137.5" cy="622.2" r="3.15" fill="#ffff00" stroke="#666600" stroke-width="0.85"/><circle cx="155" cy="622.2" r="3.15" fill="#ffff00" stroke="#666600" stroke-width="0.85"/><circle cx="159.8" cy="622.2" r="3.15" fill="#ffff00" stroke="#666600" stroke-width="0.85"/><circle cx="159.8" cy="625.4" r="3.15" fill="#ffff00" stroke="#666600" stroke-width="0.85"/><circle cx="163.1" cy="582.1" r="3.15" fill="#ffff00" stroke="#666600" stroke-width="0.85"/><circle cx="212.5" cy="591.9" r="3.15" fill="#ffff00" stroke="#666600" stroke-width="0.85"/><circle cx="176.25" cy="597.5" r="3.15" fill="#ffff00" stroke="#666600" stroke-width="0.85"/><circle cx="160" cy="605.4" r="3.15" fill="#ffff00" stroke="#666600" stroke-width="0.85"/><circle cx="175.6" cy="622.2" r="3.15" fill="#ffff00" stroke="#666600" stroke-width="0.85"/><circle cx="194.4" cy="622.2" r="3.15" fill="#ffff00" stroke="#666600" stroke-width="0.85"/><circle cx="203.1" cy="622.2" r="3.15" fill="#ffff00" stroke="#666600" stroke-width="0.85"/><circle cx="161" cy="625.8" r="3.15" fill="#ffff00" stroke="#666600" stroke-width="0.85"/><circle cx="244.4" cy="635.4" r="3.15" fill="#ffff00" stroke="#666600" stroke-width="0.85"/><circle cx="254.8" cy="640" r="3.15" fill="#ffff00" stroke="#666600" stroke-width="0.85"/><circle cx="171.9" cy="653.1" r="3.15" fill="#ffff00" stroke="#666600" stroke-width="0.85"/><circle cx="191.9" cy="650.4" r="3.15" fill="#ffff00" stroke="#666600" stroke-width="0.85"/><circle cx="162.1" cy="665" r="3.15" fill="#ffff00" stroke="#666600" stroke-width="0.85"/><circle cx="185" cy="663.5" r="3.15" fill="#ffff00" stroke="#666600" stroke-width="0.85"/><circle cx="142.1" cy="630" r="3.15" fill="#ffff00" stroke="#666600" stroke-width="0.85"/><circle cx="137.9" cy="638.5" r="3.15" fill="#ffff00" stroke="#666600" stroke-width="0.85"/><circle cx="105.2" cy="645.6" r="3.15" fill="#ffff00" stroke="#666600" stroke-width="0.85"/><circle cx="73.3" cy="651.5" r="3.15" fill="#ffff00" stroke="#666600" stroke-width="0.85"/><circle cx="130" cy="651.5" r="3.15" fill="#ffff00" stroke="#666600" stroke-width="0.85"/><circle cx="111.25" cy="631.7" r="3.15" fill="#ff0000" stroke="#7a0000" stroke-width="0.85"/><circle cx="153.1" cy="663.3" r="3.15" fill="#ff0000" stroke="#7a0000" stroke-width="0.85"/><circle cx="158.75" cy="667.1" r="3.15" fill="#ff0000" stroke="#7a0000" stroke-width="0.85"/><circle cx="142.1" cy="685.8" r="3.15" fill="#ff0000" stroke="#7a0000" stroke-width="0.85"/><circle cx="158.75" cy="686.9" r="3.15" fill="#ff0000" stroke="#7a0000" stroke-width="0.85"/><circle cx="110.8" cy="689.6" r="3.15" fill="#ff0000" stroke="#7a0000" stroke-width="0.85"/><circle cx="83.75" cy="703.5" r="3.15" fill="#ff0000" stroke="#7a0000" stroke-width="0.85"/><circle cx="87.9" cy="707.7" r="3.15" fill="#ff0000" stroke="#7a0000" stroke-width="0.85"/><circle cx="94.8" cy="708.75" r="3.15" fill="#ff0000" stroke="#7a0000" stroke-width="0.85"/><circle cx="88.3" cy="712.9" r="3.15" fill="#ff0000" stroke="#7a0000" stroke-width="0.85"/><circle cx="136.25" cy="698.3" r="3.15" fill="#ff0000" stroke="#7a0000" stroke-width="0.85"/><circle cx="147.3" cy="698.75" r="3.15" fill="#ff0000" stroke="#7a0000" stroke-width="0.85"/><circle cx="133.1" cy="702.1" r="3.15" fill="#ff0000" stroke="#7a0000" stroke-width="0.85"/><circle cx="127.5" cy="702.9" r="3.15" fill="#ff0000" stroke="#7a0000" stroke-width="0.85"/><circle cx="124.4" cy="705.6" r="3.15" fill="#ff0000" stroke="#7a0000" stroke-width="0.85"/><circle cx="135.8" cy="706.7" r="3.15" fill="#ff0000" stroke="#7a0000" stroke-width="0.85"/><circle cx="152.5" cy="706.7" r="3.15" fill="#ff0000" stroke="#7a0000" stroke-width="0.85"/><circle cx="176.25" cy="661.25" r="3.15" fill="#ff0000" stroke="#7a0000" stroke-width="0.85"/><circle cx="172.9" cy="670.8" r="3.15" fill="#ff0000" stroke="#7a0000" stroke-width="0.85"/><circle cx="167.3" cy="677.1" r="3.15" fill="#ff0000" stroke="#7a0000" stroke-width="0.85"/><circle cx="160" cy="686.9" r="3.15" fill="#ff0000" stroke="#7a0000" stroke-width="0.85"/><circle cx="196.5" cy="693.1" r="3.15" fill="#ff0000" stroke="#7a0000" stroke-width="0.85"/><circle cx="183.3" cy="697.7" r="3.15" fill="#ff0000" stroke="#7a0000" stroke-width="0.85"/><circle cx="184" cy="700.8" r="3.15" fill="#ff0000" stroke="#7a0000" stroke-width="0.85"/><circle cx="179.8" cy="704.6" r="3.15" fill="#ff0000" stroke="#7a0000" stroke-width="0.85"/><circle cx="188.75" cy="706.25" r="3.15" fill="#ff0000" stroke="#7a0000" stroke-width="0.85"/><circle cx="191.25" cy="705.6" r="3.15" fill="#ff0000" stroke="#7a0000" stroke-width="0.85"/><circle cx="174.6" cy="708.75" r="3.15" fill="#ff0000" stroke="#7a0000" stroke-width="0.85"/><circle cx="204.4" cy="709.4" r="3.15" fill="#ff0000" stroke="#7a0000" stroke-width="0.85"/><circle cx="213.75" cy="713.5" r="3.15" fill="#ff0000" stroke="#7a0000" stroke-width="0.85"/><circle cx="260" cy="713.5" r="3.15" fill="#ff0000" stroke="#7a0000" stroke-width="0.85"/><circle cx="163.75" cy="713.3" r="3.15" fill="#ff0000" stroke="#3a0000" stroke-width="1.0"/><circle cx="154.2" cy="713.3" r="3.15" fill="#ff0000" stroke="#3a0000" stroke-width="1.0"/><circle cx="157.7" cy="713.3" r="3.15" fill="#ff0000" stroke="#3a0000" stroke-width="1.0"/><circle cx="116" cy="713.3" r="3.15" fill="#ff0000" stroke="#3a0000" stroke-width="1.0"/><circle cx="175.6" cy="713.3" r="3.15" fill="#ff0000" stroke="#3a0000" stroke-width="1.0"/><circle cx="145.2" cy="713.3" r="3.15" fill="#ff0000" stroke="#3a0000" stroke-width="1.0"/><circle cx="104.2" cy="713.3" r="3.15" fill="#ff0000" stroke="#3a0000" stroke-width="1.0"/><circle cx="161" cy="713.3" r="3.15" fill="#ff0000" stroke="#3a0000" stroke-width="1.0"/><circle cx="98.3" cy="713.3" r="3.15" fill="#ff0000" stroke="#3a0000" stroke-width="1.0"/><circle cx="77.5" cy="713.3" r="3.15" fill="#ff0000" stroke="#3a0000" stroke-width="1.0"/><circle cx="135.4" cy="713.3" r="3.15" fill="#ff0000" stroke="#3a0000" stroke-width="1.0"/><circle cx="74.4" cy="713.3" r="3.15" fill="#ff0000" stroke="#3a0000" stroke-width="1.0"/><circle cx="122.3" cy="713.3" r="3.15" fill="#ff0000" stroke="#3a0000" stroke-width="1.0"/><circle cx="142.1" cy="713.3" r="3.15" fill="#ff0000" stroke="#3a0000" stroke-width="1.0"/><circle cx="118.1" cy="713.3" r="3.15" fill="#ff0000" stroke="#3a0000" stroke-width="1.0"/><circle cx="148.3" cy="713.3" r="3.15" fill="#ff0000" stroke="#3a0000" stroke-width="1.0"/><circle cx="186" cy="713.3" r="3.15" fill="#ff0000" stroke="#3a0000" stroke-width="1.0"/><circle cx="131.7" cy="713.3" r="3.15" fill="#ff0000" stroke="#3a0000" stroke-width="1.0"/><circle cx="180.8" cy="713.3" r="3.15" fill="#ff0000" stroke="#3a0000" stroke-width="1.0"/><circle cx="150.8" cy="713.3" r="3.15" fill="#ff0000" stroke="#3a0000" stroke-width="1.0"/><circle cx="125" cy="713.3" r="3.15" fill="#ff0000" stroke="#3a0000" stroke-width="1.0"/><circle cx="172.5" cy="713.3" r="3.15" fill="#ff0000" stroke="#3a0000" stroke-width="1.0"/><circle cx="191.25" cy="713.3" r="3.15" fill="#ff0000" stroke="#3a0000" stroke-width="1.0"/><circle cx="128.5" cy="713.3" r="3.15" fill="#ff0000" stroke="#3a0000" stroke-width="1.0"/><circle cx="195.4" cy="713.3" r="3.15" fill="#ff0000" stroke="#3a0000" stroke-width="1.0"/><circle cx="198" cy="713.3" r="3.15" fill="#ff0000" stroke="#3a0000" stroke-width="1.0"/><circle cx="137.9" cy="713.3" r="3.15" fill="#ff0000" stroke="#3a0000" stroke-width="1.0"/><circle cx="68.5" cy="530.4" r="3.15" fill="#0000ff" stroke="#000090" stroke-width="0.85"/><circle cx="106.7" cy="533.5" r="3.15" fill="#0000ff" stroke="#000090" stroke-width="0.85"/><circle cx="109.2" cy="535.6" r="3.15" fill="#0000ff" stroke="#000090" stroke-width="0.85"/><circle cx="116.5" cy="530.4" r="3.15" fill="#0000ff" stroke="#000090" stroke-width="0.85"/><circle cx="127.5" cy="530.4" r="3.15" fill="#0000ff" stroke="#000090" stroke-width="0.85"/><circle cx="130.6" cy="530.4" r="3.15" fill="#0000ff" stroke="#000090" stroke-width="0.85"/><circle cx="135.8" cy="530.4" r="3.15" fill="#0000ff" stroke="#000090" stroke-width="0.85"/><circle cx="142.1" cy="530.8" r="3.15" fill="#0000ff" stroke="#000090" stroke-width="0.85"/><circle cx="146.25" cy="530.4" r="3.15" fill="#0000ff" stroke="#000090" stroke-width="0.85"/><circle cx="150.8" cy="530.4" r="3.15" fill="#0000ff" stroke="#000090" stroke-width="0.85"/><circle cx="146.7" cy="534.6" r="3.15" fill="#0000ff" stroke="#000090" stroke-width="0.85"/><circle cx="96.9" cy="543.3" r="3.15" fill="#0000ff" stroke="#000090" stroke-width="0.85"/><circle cx="121.9" cy="548.1" r="3.15" fill="#0000ff" stroke="#000090" stroke-width="0.85"/><circle cx="141" cy="554.4" r="3.15" fill="#0000ff" stroke="#000090" stroke-width="0.85"/><circle cx="116.7" cy="568.5" r="3.15" fill="#0000ff" stroke="#000090" stroke-width="0.85"/><circle cx="149.8" cy="590.4" r="3.15" fill="#0000ff" stroke="#000090" stroke-width="0.85"/><circle cx="178.75" cy="533.5" r="3.15" fill="#0000ff" stroke="#000090" stroke-width="0.85"/><circle cx="181.9" cy="535" r="3.15" fill="#0000ff" stroke="#000090" stroke-width="0.85"/><circle cx="185" cy="532.5" r="3.15" fill="#0000ff" stroke="#000090" stroke-width="0.85"/><circle cx="241.25" cy="531.5" r="3.15" fill="#0000ff" stroke="#000090" stroke-width="0.85"/><circle cx="260" cy="536.25" r="3.15" fill="#0000ff" stroke="#000090" stroke-width="0.85"/><circle cx="216.9" cy="545.6" r="3.15" fill="#0000ff" stroke="#000090" stroke-width="0.85"/><circle cx="205.8" cy="552.3" r="3.15" fill="#0000ff" stroke="#000090" stroke-width="0.85"/><circle cx="182.5" cy="567.5" r="3.15" fill="#0000ff" stroke="#000090" stroke-width="0.85"/><circle cx="183.5" cy="572.1" r="3.15" fill="#0000ff" stroke="#000090" stroke-width="0.85"/><circle cx="215.2" cy="530.8" r="3.15" fill="#0000ff" stroke="#000050" stroke-width="1.0"/><circle cx="175.6" cy="530.8" r="3.15" fill="#0000ff" stroke="#000050" stroke-width="1.0"/><circle cx="169.4" cy="530.8" r="3.15" fill="#0000ff" stroke="#000050" stroke-width="1.0"/><circle cx="252.7" cy="530.8" r="3.15" fill="#0000ff" stroke="#000050" stroke-width="1.0"/><circle cx="164.6" cy="530.8" r="3.15" fill="#0000ff" stroke="#000050" stroke-width="1.0"/><circle cx="192.3" cy="530.8" r="3.15" fill="#0000ff" stroke="#000050" stroke-width="1.0"/><circle cx="223.5" cy="530.8" r="3.15" fill="#0000ff" stroke="#000050" stroke-width="1.0"/><circle cx="255.4" cy="530.8" r="3.15" fill="#0000ff" stroke="#000050" stroke-width="1.0"/><circle cx="213.1" cy="530.8" r="3.15" fill="#0000ff" stroke="#000050" stroke-width="1.0"/><circle cx="172.5" cy="530.8" r="3.15" fill="#0000ff" stroke="#000050" stroke-width="1.0"/><circle cx="199.6" cy="530.8" r="3.15" fill="#0000ff" stroke="#000050" stroke-width="1.0"/><circle cx="189.2" cy="530.8" r="3.15" fill="#0000ff" stroke="#000050" stroke-width="1.0"/><circle cx="195.4" cy="530.8" r="3.15" fill="#0000ff" stroke="#000050" stroke-width="1.0"/><circle cx="201.25" cy="530.8" r="3.15" fill="#0000ff" stroke="#000050" stroke-width="1.0"/><circle cx="166.25" cy="530.8" r="3.15" fill="#0000ff" stroke="#000050" stroke-width="1.0"/></g>
<line x1="38.4" y1="530.60" x2="43.4" y2="530.60" stroke="#222" stroke-width="1.1"/>
<text transform="translate(31.65,530.60) rotate(-90)" text-anchor="middle" font-size="12">1.0</text>
<line x1="38.4" y1="576.33" x2="43.4" y2="576.33" stroke="#222" stroke-width="1.1"/>
<text transform="translate(31.65,576.33) rotate(-90)" text-anchor="middle" font-size="12">0.5</text>
<line x1="38.4" y1="622.05" x2="43.4" y2="622.05" stroke="#222" stroke-width="1.1"/>
<text transform="translate(31.65,622.05) rotate(-90)" text-anchor="middle" font-size="12">0.0</text>
<line x1="38.4" y1="667.78" x2="43.4" y2="667.78" stroke="#222" stroke-width="1.1"/>
<text transform="translate(31.65,667.78) rotate(-90)" text-anchor="middle" font-size="12">−0.5</text>
<line x1="38.4" y1="713.50" x2="43.4" y2="713.50" stroke="#222" stroke-width="1.1"/>
<text transform="translate(31.65,713.50) rotate(-90)" text-anchor="middle" font-size="12">−1.0</text>
<text transform="translate(11.00,623.20) rotate(-90)" text-anchor="middle" font-size="13.35">N lim. <tspan font-family="Liberation Mono" font-size="20.5">←</tspan> N+P lim. <tspan font-family="Liberation Mono" font-size="20.5">→</tspan> P lim.</text>
<text x="3.30" y="532.80" font-size="17" font-weight="bold">C</text>
<line x1="56.55" y1="720.5999999999999" x2="56.55" y2="726.0999999999999" stroke="#222" stroke-width="1.1"/>
<text x="56.55" y="740.70" text-anchor="middle" font-size="12">10</text>
<line x1="118.85" y1="720.5999999999999" x2="118.85" y2="726.0999999999999" stroke="#222" stroke-width="1.1"/>
<text x="118.85" y="740.70" text-anchor="middle" font-size="12">15</text>
<line x1="163.05" y1="720.5999999999999" x2="163.05" y2="726.0999999999999" stroke="#222" stroke-width="1.1"/>
<text x="163.05" y="740.70" text-anchor="middle" font-size="12">20</text>
<line x1="197.34" y1="720.5999999999999" x2="197.34" y2="726.0999999999999" stroke="#222" stroke-width="1.1"/>
<text x="197.34" y="740.70" text-anchor="middle" font-size="12">25</text>
<line x1="225.36" y1="720.5999999999999" x2="225.36" y2="726.0999999999999" stroke="#222" stroke-width="1.1"/>
<text x="225.36" y="740.70" text-anchor="middle" font-size="12">30</text>
<line x1="249.04" y1="720.5999999999999" x2="249.04" y2="726.0999999999999" stroke="#222" stroke-width="1.1"/>
<line x1="269.56" y1="720.5999999999999" x2="269.56" y2="726.0999999999999" stroke="#222" stroke-width="1.1"/>
<text x="269.56" y="740.70" text-anchor="middle" font-size="12">40</text>
<text x="166.50" y="759.50" text-anchor="middle" font-size="13.2">PON : POP</text>
<rect x="348.2" y="5.0" width="240.3" height="197.2" fill="none" stroke="#1a1a1a" stroke-width="1.4"/>
<line x1="538.6" y1="5.0" x2="538.6" y2="202.2" stroke="#00ff00" stroke-width="3.3" stroke-linecap="round"/>
<line x1="348.2" y1="73.17" x2="588.5" y2="73.17" stroke="#7f7f7f" stroke-width="1.3" stroke-dasharray="6.3 4.61" stroke-dashoffset="0.7"/>
<line x1="348.2" y1="134.13" x2="588.5" y2="134.13" stroke="#7f7f7f" stroke-width="1.3" stroke-dasharray="6.3 4.61" stroke-dashoffset="0.7"/>
<line x1="451.7" y1="202.2" x2="451.7" y2="5.0" stroke="#7f7f7f" stroke-width="1.3" stroke-dasharray="6.3 4.61" stroke-dashoffset="0"/>
<line x1="491.0" y1="202.2" x2="491.0" y2="5.0" stroke="#7f7f7f" stroke-width="1.3" stroke-dasharray="6.3 4.61" stroke-dashoffset="0"/>
<polyline points="362.70,190.68 364.82,190.42 366.95,190.13 369.07,189.82 371.19,189.49 373.31,189.14 375.44,188.75 377.56,188.34 379.68,187.89 381.81,187.41 383.93,186.89 386.05,186.34 388.18,185.74 390.30,185.10 392.42,184.40 394.54,183.66 396.67,182.87 398.79,182.02 400.91,181.11 403.04,180.13 405.16,179.09 407.28,177.97 409.41,176.78 411.53,175.51 413.65,174.16 415.77,172.72 417.90,171.20 420.02,169.58 422.14,167.86 424.27,166.05 426.39,164.13 428.51,162.11 430.64,159.98 432.76,157.74 434.88,155.40 437.00,152.94 439.13,150.38 441.25,147.71 443.37,144.94 445.50,142.06 447.62,139.09 449.74,136.02 451.87,132.86 453.99,129.62 456.11,126.30 458.24,122.92 460.36,119.48 462.48,115.99 464.60,112.46 466.73,108.90 468.85,105.33 470.97,101.75 473.10,98.17 475.22,94.61 477.34,91.08 479.46,87.59 481.59,84.14 483.71,80.75 485.83,77.43 487.96,74.18 490.08,71.01 492.20,67.93 494.33,64.95 496.45,62.06 498.57,59.27 500.69,56.59 502.82,54.02 504.94,51.56 507.06,49.20 509.19,46.95 511.31,44.81 513.43,42.78 515.56,40.85 517.68,39.03 519.80,37.30 521.92,35.67 524.05,34.13 526.17,32.69 528.29,31.33 530.42,30.05 532.54,28.85 534.66,27.73 536.79,26.68 538.91,25.69 541.03,24.78 543.15,23.92 545.28,23.12 547.40,22.37 549.52,21.68 551.65,21.03 553.77,20.43 555.89,19.86 558.02,19.34 560.14,18.86 562.26,18.41 564.38,17.99 566.51,17.60 568.63,17.24 570.75,16.91 572.88,16.60 575.00,16.31" fill="none" stroke="#000" stroke-width="2.6" stroke-linecap="butt" stroke-linejoin="round"/>
<g><circle cx="359.4" cy="103.2" r="3.15" fill="#ffffff" stroke="#8c8c8c" stroke-width="0.85"/><circle cx="423.1" cy="103.4" r="3.15" fill="#ffffff" stroke="#8c8c8c" stroke-width="0.85"/><circle cx="413.75" cy="137.7" r="3.15" fill="#ffffff" stroke="#8c8c8c" stroke-width="0.85"/><circle cx="465.6" cy="124.4" r="3.15" fill="#ffffff" stroke="#8c8c8c" stroke-width="0.85"/><circle cx="473.75" cy="91.7" r="3.15" fill="#ffffff" stroke="#8c8c8c" stroke-width="0.85"/><circle cx="477.9" cy="104.6" r="3.15" fill="#ffffff" stroke="#8c8c8c" stroke-width="0.85"/><circle cx="473.75" cy="110.6" r="3.15" fill="#ffffff" stroke="#8c8c8c" stroke-width="0.85"/><circle cx="507.1" cy="100.6" r="3.15" fill="#ffffff" stroke="#8c8c8c" stroke-width="0.85"/><circle cx="519.6" cy="99.8" r="3.15" fill="#ffffff" stroke="#8c8c8c" stroke-width="0.85"/><circle cx="583.3" cy="103.4" r="3.15" fill="#ffffff" stroke="#8c8c8c" stroke-width="0.85"/><circle cx="410.6" cy="63.75" r="3.15" fill="#ffff00" stroke="#666600" stroke-width="0.85"/><circle cx="440.8" cy="67.7" r="3.15" fill="#ffff00" stroke="#666600" stroke-width="0.85"/><circle cx="437.1" cy="78.75" r="3.15" fill="#ffff00" stroke="#666600" stroke-width="0.85"/><circle cx="450.8" cy="97.2" r="3.15" fill="#ffff00" stroke="#666600" stroke-width="0.85"/><circle cx="390.1" cy="103.2" r="3.15" fill="#ffff00" stroke="#666600" stroke-width="0.85"/><circle cx="390.8" cy="103.3" r="3.15" fill="#ffff00" stroke="#666600" stroke-width="0.85"/><circle cx="392.9" cy="107.9" r="3.15" fill="#ffff00" stroke="#666600" stroke-width="0.85"/><circle cx="404.4" cy="103.2" r="3.15" fill="#ffff00" stroke="#666600" stroke-width="0.85"/><circle cx="411.25" cy="103.2" r="3.15" fill="#ffff00" stroke="#666600" stroke-width="0.85"/><circle cx="429.9" cy="103.5" r="3.15" fill="#ffff00" stroke="#666600" stroke-width="0.85"/><circle cx="440.1" cy="103.2" r="3.15" fill="#ffff00" stroke="#666600" stroke-width="0.85"/><circle cx="442.1" cy="103.2" r="3.15" fill="#ffff00" stroke="#666600" stroke-width="0.85"/><circle cx="452.3" cy="103.2" r="3.15" fill="#ffff00" stroke="#666600" stroke-width="0.85"/><circle cx="438.75" cy="111.25" r="3.15" fill="#ffff00" stroke="#666600" stroke-width="0.85"/><circle cx="434.6" cy="116.9" r="3.15" fill="#ffff00" stroke="#666600" stroke-width="0.85"/><circle cx="468.6" cy="121" r="3.15" fill="#ffff00" stroke="#666600" stroke-width="0.85"/><circle cx="398.1" cy="131.7" r="3.15" fill="#ffff00" stroke="#666600" stroke-width="0.85"/><circle cx="434.2" cy="132.5" r="3.15" fill="#ffff00" stroke="#666600" stroke-width="0.85"/><circle cx="460" cy="134.6" r="3.15" fill="#ffff00" stroke="#666600" stroke-width="0.85"/><circle cx="468" cy="132.7" r="3.15" fill="#ffff00" stroke="#666600" stroke-width="0.85"/><circle cx="394" cy="145" r="3.15" fill="#ffff00" stroke="#666600" stroke-width="0.85"/><circle cx="419.6" cy="146.7" r="3.15" fill="#ffff00" stroke="#666600" stroke-width="0.85"/><circle cx="487.9" cy="73.3" r="3.15" fill="#ffff00" stroke="#666600" stroke-width="0.85"/><circle cx="486.9" cy="87.5" r="3.15" fill="#ffff00" stroke="#666600" stroke-width="0.85"/><circle cx="495" cy="98" r="3.15" fill="#ffff00" stroke="#666600" stroke-width="0.85"/><circle cx="498.1" cy="99.2" r="3.15" fill="#ffff00" stroke="#666600" stroke-width="0.85"/><circle cx="497.3" cy="126.7" r="3.15" fill="#ffff00" stroke="#666600" stroke-width="0.85"/><circle cx="455.4" cy="113.1" r="3.15" fill="#ff0000" stroke="#7a0000" stroke-width="0.85"/><circle cx="416.9" cy="142.9" r="3.15" fill="#ff0000" stroke="#7a0000" stroke-width="0.85"/><circle cx="447.5" cy="144.6" r="3.15" fill="#ff0000" stroke="#7a0000" stroke-width="0.85"/><circle cx="457.1" cy="148.75" r="3.15" fill="#ff0000" stroke="#7a0000" stroke-width="0.85"/><circle cx="435" cy="152.5" r="3.15" fill="#ff0000" stroke="#7a0000" stroke-width="0.85"/><circle cx="446.5" cy="158.5" r="3.15" fill="#ff0000" stroke="#7a0000" stroke-width="0.85"/><circle cx="388.75" cy="168.3" r="3.15" fill="#ff0000" stroke="#7a0000" stroke-width="0.85"/><circle cx="397.7" cy="167.1" r="3.15" fill="#ff0000" stroke="#7a0000" stroke-width="0.85"/><circle cx="413.3" cy="174.2" r="3.15" fill="#ff0000" stroke="#7a0000" stroke-width="0.85"/><circle cx="364.8" cy="179.4" r="3.15" fill="#ff0000" stroke="#7a0000" stroke-width="0.85"/><circle cx="376.9" cy="182.1" r="3.15" fill="#ff0000" stroke="#7a0000" stroke-width="0.85"/><circle cx="381.5" cy="186.7" r="3.15" fill="#ff0000" stroke="#7a0000" stroke-width="0.85"/><circle cx="366.9" cy="188.75" r="3.15" fill="#ff0000" stroke="#7a0000" stroke-width="0.85"/><circle cx="425.8" cy="183.1" r="3.15" fill="#ff0000" stroke="#7a0000" stroke-width="0.85"/><circle cx="458.5" cy="179.8" r="3.15" fill="#ff0000" stroke="#7a0000" stroke-width="0.85"/><circle cx="461" cy="179.8" r="3.15" fill="#ff0000" stroke="#7a0000" stroke-width="0.85"/><circle cx="459.2" cy="184.6" r="3.15" fill="#ff0000" stroke="#7a0000" stroke-width="0.85"/><circle cx="462.7" cy="188.75" r="3.15" fill="#ff0000" stroke="#7a0000" stroke-width="0.85"/><circle cx="446" cy="185.6" r="3.15" fill="#ff0000" stroke="#7a0000" stroke-width="0.85"/><circle cx="449.2" cy="185" r="3.15" fill="#ff0000" stroke="#7a0000" stroke-width="0.85"/><circle cx="438.75" cy="187.7" r="3.15" fill="#ff0000" stroke="#7a0000" stroke-width="0.85"/><circle cx="440.8" cy="187.1" r="3.15" fill="#ff0000" stroke="#7a0000" stroke-width="0.85"/><circle cx="415.8" cy="188.75" r="3.15" fill="#ff0000" stroke="#7a0000" stroke-width="0.85"/><circle cx="411.7" cy="190.8" r="3.15" fill="#ff0000" stroke="#7a0000" stroke-width="0.85"/><circle cx="420" cy="190.4" r="3.15" fill="#ff0000" stroke="#7a0000" stroke-width="0.85"/><circle cx="430.4" cy="189.8" r="3.15" fill="#ff0000" stroke="#7a0000" stroke-width="0.85"/><circle cx="504.6" cy="171.5" r="3.15" fill="#ff0000" stroke="#7a0000" stroke-width="0.85"/><circle cx="465" cy="189.8" r="3.15" fill="#ff0000" stroke="#7a0000" stroke-width="0.85"/><circle cx="472.9" cy="194.6" r="3.15" fill="#ff0000" stroke="#7a0000" stroke-width="0.85"/><circle cx="465.8" cy="195" r="3.15" fill="#ff0000" stroke="#3a0000" stroke-width="1.0"/><circle cx="414.8" cy="195" r="3.15" fill="#ff0000" stroke="#3a0000" stroke-width="1.0"/><circle cx="444.6" cy="195" r="3.15" fill="#ff0000" stroke="#3a0000" stroke-width="1.0"/><circle cx="447.1" cy="195" r="3.15" fill="#ff0000" stroke="#3a0000" stroke-width="1.0"/><circle cx="432.5" cy="195" r="3.15" fill="#ff0000" stroke="#3a0000" stroke-width="1.0"/><circle cx="377.3" cy="195" r="3.15" fill="#ff0000" stroke="#3a0000" stroke-width="1.0"/><circle cx="441.9" cy="195" r="3.15" fill="#ff0000" stroke="#3a0000" stroke-width="1.0"/><circle cx="452.3" cy="195" r="3.15" fill="#ff0000" stroke="#3a0000" stroke-width="1.0"/><circle cx="427.3" cy="195" r="3.15" fill="#ff0000" stroke="#3a0000" stroke-width="1.0"/><circle cx="374.2" cy="195" r="3.15" fill="#ff0000" stroke="#3a0000" stroke-width="1.0"/><circle cx="380.4" cy="195" r="3.15" fill="#ff0000" stroke="#3a0000" stroke-width="1.0"/><circle cx="360.6" cy="195" r="3.15" fill="#ff0000" stroke="#3a0000" stroke-width="1.0"/><circle cx="468" cy="195" r="3.15" fill="#ff0000" stroke="#3a0000" stroke-width="1.0"/><circle cx="453.75" cy="195" r="3.15" fill="#ff0000" stroke="#3a0000" stroke-width="1.0"/><circle cx="395" cy="195" r="3.15" fill="#ff0000" stroke="#3a0000" stroke-width="1.0"/><circle cx="423.1" cy="195" r="3.15" fill="#ff0000" stroke="#3a0000" stroke-width="1.0"/><circle cx="436.7" cy="195" r="3.15" fill="#ff0000" stroke="#3a0000" stroke-width="1.0"/><circle cx="420" cy="195" r="3.15" fill="#ff0000" stroke="#3a0000" stroke-width="1.0"/><circle cx="365.8" cy="195" r="3.15" fill="#ff0000" stroke="#3a0000" stroke-width="1.0"/><circle cx="401.25" cy="195" r="3.15" fill="#ff0000" stroke="#3a0000" stroke-width="1.0"/><circle cx="461.7" cy="195" r="3.15" fill="#ff0000" stroke="#3a0000" stroke-width="1.0"/><circle cx="409.6" cy="195" r="3.15" fill="#ff0000" stroke="#3a0000" stroke-width="1.0"/><circle cx="401.25" cy="12.1" r="3.15" fill="#0000ff" stroke="#000090" stroke-width="0.85"/><circle cx="407.5" cy="12.1" r="3.15" fill="#0000ff" stroke="#000090" stroke-width="0.85"/><circle cx="446" cy="15" r="3.15" fill="#0000ff" stroke="#000090" stroke-width="0.85"/><circle cx="454.4" cy="16" r="3.15" fill="#0000ff" stroke="#000090" stroke-width="0.85"/><circle cx="461.7" cy="12.9" r="3.15" fill="#0000ff" stroke="#000090" stroke-width="0.85"/><circle cx="441.5" cy="33.3" r="3.15" fill="#0000ff" stroke="#000090" stroke-width="0.85"/><circle cx="414.8" cy="53.5" r="3.15" fill="#0000ff" stroke="#000090" stroke-width="0.85"/><circle cx="469.5" cy="72.3" r="3.15" fill="#0000ff" stroke="#000090" stroke-width="0.85"/><circle cx="474.4" cy="16.7" r="3.15" fill="#0000ff" stroke="#000090" stroke-width="0.85"/><circle cx="482.7" cy="12.1" r="3.15" fill="#0000ff" stroke="#000090" stroke-width="0.85"/><circle cx="508.75" cy="13.5" r="3.15" fill="#0000ff" stroke="#000090" stroke-width="0.85"/><circle cx="535.8" cy="17.7" r="3.15" fill="#0000ff" stroke="#000090" stroke-width="0.85"/><circle cx="539" cy="14.6" r="3.15" fill="#0000ff" stroke="#000090" stroke-width="0.85"/><circle cx="545.2" cy="16.25" r="3.15" fill="#0000ff" stroke="#000090" stroke-width="0.85"/><circle cx="537.5" cy="26.7" r="3.15" fill="#0000ff" stroke="#000090" stroke-width="0.85"/><circle cx="548.3" cy="24.6" r="3.15" fill="#0000ff" stroke="#000090" stroke-width="0.85"/><circle cx="555.2" cy="29.6" r="3.15" fill="#0000ff" stroke="#000090" stroke-width="0.85"/><circle cx="535.8" cy="36" r="3.15" fill="#0000ff" stroke="#000090" stroke-width="0.85"/><circle cx="480.6" cy="50" r="3.15" fill="#0000ff" stroke="#000090" stroke-width="0.85"/><circle cx="575.4" cy="49.2" r="3.15" fill="#0000ff" stroke="#000090" stroke-width="0.85"/><circle cx="496.25" cy="12.1" r="3.15" fill="#0000ff" stroke="#000050" stroke-width="1.0"/><circle cx="550.4" cy="12.1" r="3.15" fill="#0000ff" stroke="#000050" stroke-width="1.0"/><circle cx="527.5" cy="12.1" r="3.15" fill="#0000ff" stroke="#000050" stroke-width="1.0"/><circle cx="503.5" cy="12.1" r="3.15" fill="#0000ff" stroke="#000050" stroke-width="1.0"/><circle cx="553.5" cy="12.1" r="3.15" fill="#0000ff" stroke="#000050" stroke-width="1.0"/><circle cx="541" cy="12.1" r="3.15" fill="#0000ff" stroke="#000050" stroke-width="1.0"/><circle cx="493.1" cy="12.1" r="3.15" fill="#0000ff" stroke="#000050" stroke-width="1.0"/><circle cx="564" cy="12.1" r="3.15" fill="#0000ff" stroke="#000050" stroke-width="1.0"/><circle cx="544.2" cy="12.1" r="3.15" fill="#0000ff" stroke="#000050" stroke-width="1.0"/><circle cx="514" cy="12.1" r="3.15" fill="#0000ff" stroke="#000050" stroke-width="1.0"/><circle cx="557.7" cy="12.1" r="3.15" fill="#0000ff" stroke="#000050" stroke-width="1.0"/><circle cx="566" cy="12.1" r="3.15" fill="#0000ff" stroke="#000050" stroke-width="1.0"/><circle cx="530.6" cy="12.1" r="3.15" fill="#0000ff" stroke="#000050" stroke-width="1.0"/><circle cx="560.8" cy="12.1" r="3.15" fill="#0000ff" stroke="#000050" stroke-width="1.0"/><circle cx="534.8" cy="12.1" r="3.15" fill="#0000ff" stroke="#000050" stroke-width="1.0"/><circle cx="519.2" cy="12.1" r="3.15" fill="#0000ff" stroke="#000050" stroke-width="1.0"/><circle cx="547.3" cy="12.1" r="3.15" fill="#0000ff" stroke="#000050" stroke-width="1.0"/><circle cx="524.4" cy="12.1" r="3.15" fill="#0000ff" stroke="#000050" stroke-width="1.0"/><circle cx="501.5" cy="12.1" r="3.15" fill="#0000ff" stroke="#000050" stroke-width="1.0"/></g>
<line x1="343.2" y1="12.20" x2="348.2" y2="12.20" stroke="#222" stroke-width="1.1"/>
<text transform="translate(336.45,12.20) rotate(-90)" text-anchor="middle" font-size="12">1.0</text>
<line x1="343.2" y1="57.92" x2="348.2" y2="57.92" stroke="#222" stroke-width="1.1"/>
<text transform="translate(336.45,57.92) rotate(-90)" text-anchor="middle" font-size="12">0.5</text>
<line x1="343.2" y1="103.65" x2="348.2" y2="103.65" stroke="#222" stroke-width="1.1"/>
<text transform="translate(336.45,103.65) rotate(-90)" text-anchor="middle" font-size="12">0.0</text>
<line x1="343.2" y1="149.38" x2="348.2" y2="149.38" stroke="#222" stroke-width="1.1"/>
<text transform="translate(336.45,149.38) rotate(-90)" text-anchor="middle" font-size="12">−0.5</text>
<line x1="343.2" y1="195.10" x2="348.2" y2="195.10" stroke="#222" stroke-width="1.1"/>
<text transform="translate(336.45,195.10) rotate(-90)" text-anchor="middle" font-size="12">−1.0</text>
<text transform="translate(315.90,104.40) rotate(-90)" text-anchor="middle" font-size="13.35">N lim. <tspan font-family="Liberation Mono" font-size="20.5">←</tspan> N+P lim. <tspan font-family="Liberation Mono" font-size="20.5">→</tspan> P lim.</text>
<text x="302.10" y="13.75" font-size="17" font-weight="bold">D</text>
<line x1="352.43" y1="202.2" x2="352.43" y2="207.7" stroke="#222" stroke-width="1.1"/>
<text x="352.43" y="221.50" text-anchor="middle" font-size="12">0.2</text>
<line x1="391.47" y1="202.2" x2="391.47" y2="207.7" stroke="#222" stroke-width="1.1"/>
<text x="391.47" y="221.50" text-anchor="middle" font-size="12">0.5</text>
<line x1="421.00" y1="202.2" x2="421.00" y2="207.7" stroke="#222" stroke-width="1.1"/>
<text x="421.00" y="221.50" text-anchor="middle" font-size="12">1.0</text>
<line x1="450.53" y1="202.2" x2="450.53" y2="207.7" stroke="#222" stroke-width="1.1"/>
<text x="450.53" y="221.50" text-anchor="middle" font-size="12">2.0</text>
<line x1="489.57" y1="202.2" x2="489.57" y2="207.7" stroke="#222" stroke-width="1.1"/>
<text x="489.57" y="221.50" text-anchor="middle" font-size="12">5.0</text>
<line x1="519.10" y1="202.2" x2="519.10" y2="207.7" stroke="#222" stroke-width="1.1"/>
<line x1="548.63" y1="202.2" x2="548.63" y2="207.7" stroke="#222" stroke-width="1.1"/>
<text x="548.63" y="221.50" text-anchor="middle" font-size="12">20.0</text>
<line x1="587.67" y1="202.2" x2="587.67" y2="207.7" stroke="#222" stroke-width="1.1"/>
<text x="587.67" y="221.50" text-anchor="middle" font-size="12">50.0</text>
<text x="471.50" y="240.00" text-anchor="middle" font-size="13.2">DIN : TP</text>
<rect x="348.2" y="264.4" width="240.3" height="197.2" fill="none" stroke="#1a1a1a" stroke-width="1.4"/>
<line x1="432.0" y1="264.4" x2="432.0" y2="461.59999999999997" stroke="#00ff00" stroke-width="3.3" stroke-linecap="round"/>
<line x1="348.2" y1="332.57" x2="588.5" y2="332.57" stroke="#7f7f7f" stroke-width="1.3" stroke-dasharray="6.3 4.61" stroke-dashoffset="0.7"/>
<line x1="348.2" y1="393.53" x2="588.5" y2="393.53" stroke="#7f7f7f" stroke-width="1.3" stroke-dasharray="6.3 4.61" stroke-dashoffset="0.7"/>
<line x1="457.0" y1="461.59999999999997" x2="457.0" y2="264.4" stroke="#7f7f7f" stroke-width="1.3" stroke-dasharray="6.3 4.61" stroke-dashoffset="0"/>
<line x1="485.8" y1="461.59999999999997" x2="485.8" y2="264.4" stroke="#7f7f7f" stroke-width="1.3" stroke-dasharray="6.3 4.61" stroke-dashoffset="0"/>
<polyline points="367.90,452.06 369.87,451.97 371.84,451.88 373.81,451.77 375.78,451.65 377.75,451.52 379.73,451.38 381.70,451.22 383.67,451.04 385.64,450.85 387.61,450.63 389.58,450.40 391.55,450.13 393.52,449.84 395.49,449.52 397.46,449.17 399.44,448.78 401.41,448.35 403.38,447.87 405.35,447.35 407.32,446.77 409.29,446.13 411.26,445.43 413.23,444.66 415.20,443.82 417.17,442.90 419.15,441.88 421.12,440.77 423.09,439.56 425.06,438.23 427.03,436.79 429.00,435.22 430.97,433.51 432.94,431.66 434.91,429.66 436.88,427.50 438.86,425.18 440.83,422.68 442.80,420.00 444.77,417.15 446.74,414.11 448.71,410.89 450.68,407.49 452.65,403.90 454.62,400.15 456.60,396.23 458.57,392.16 460.54,387.95 462.51,383.62 464.48,379.18 466.45,374.66 468.42,370.08 470.39,365.45 472.36,360.82 474.33,356.19 476.31,351.60 478.28,347.06 480.25,342.60 482.22,338.25 484.19,334.01 486.16,329.91 488.13,325.97 490.10,322.18 492.07,318.56 494.04,315.12 496.01,311.86 497.99,308.79 499.96,305.90 501.93,303.19 503.90,300.66 505.87,298.30 507.84,296.11 509.81,294.07 511.78,292.19 513.75,290.46 515.73,288.86 517.70,287.39 519.67,286.05 521.64,284.81 523.61,283.68 525.58,282.65 527.55,281.71 529.52,280.85 531.49,280.07 533.46,279.35 535.43,278.71 537.41,278.12 539.38,277.58 541.35,277.10 543.32,276.66 545.29,276.26 547.26,275.90 549.23,275.57 551.20,275.27 553.17,275.01 555.14,274.76 557.12,274.54 559.09,274.34 561.06,274.17 563.03,274.00 565.00,273.86" fill="none" stroke="#000" stroke-width="2.6" stroke-linecap="butt" stroke-linejoin="round"/>
<g><circle cx="446" cy="362.5" r="3.15" fill="#ffffff" stroke="#8c8c8c" stroke-width="0.85"/><circle cx="469.4" cy="351.5" r="3.15" fill="#ffffff" stroke="#8c8c8c" stroke-width="0.85"/><circle cx="479.6" cy="359.1" r="3.15" fill="#ffffff" stroke="#8c8c8c" stroke-width="0.85"/><circle cx="485" cy="359.8" r="3.15" fill="#ffffff" stroke="#8c8c8c" stroke-width="0.85"/><circle cx="502.5" cy="362.7" r="3.15" fill="#ffffff" stroke="#8c8c8c" stroke-width="0.85"/><circle cx="568.75" cy="362.9" r="3.15" fill="#ffffff" stroke="#8c8c8c" stroke-width="0.85"/><circle cx="447.1" cy="362.9" r="3.15" fill="#ffffff" stroke="#8c8c8c" stroke-width="0.85"/><circle cx="461.7" cy="370" r="3.15" fill="#ffffff" stroke="#8c8c8c" stroke-width="0.85"/><circle cx="422.1" cy="384.2" r="3.15" fill="#ffffff" stroke="#8c8c8c" stroke-width="0.85"/><circle cx="396.7" cy="397.1" r="3.15" fill="#ffffff" stroke="#8c8c8c" stroke-width="0.85"/><circle cx="440.8" cy="323.1" r="3.15" fill="#ffff00" stroke="#666600" stroke-width="0.85"/><circle cx="447.1" cy="327.1" r="3.15" fill="#ffff00" stroke="#666600" stroke-width="0.85"/><circle cx="469.4" cy="338.1" r="3.15" fill="#ffff00" stroke="#666600" stroke-width="0.85"/><circle cx="467.9" cy="346.5" r="3.15" fill="#ffff00" stroke="#666600" stroke-width="0.85"/><circle cx="384.6" cy="356.5" r="3.15" fill="#ffff00" stroke="#666600" stroke-width="0.85"/><circle cx="439.8" cy="358.2" r="3.15" fill="#ffff00" stroke="#666600" stroke-width="0.85"/><circle cx="457.3" cy="357.5" r="3.15" fill="#ffff00" stroke="#666600" stroke-width="0.85"/><circle cx="423.1" cy="362.7" r="3.15" fill="#ffff00" stroke="#666600" stroke-width="0.85"/><circle cx="428.3" cy="362.7" r="3.15" fill="#ffff00" stroke="#666600" stroke-width="0.85"/><circle cx="432.5" cy="362.7" r="3.15" fill="#ffff00" stroke="#666600" stroke-width="0.85"/><circle cx="437.7" cy="362.7" r="3.15" fill="#ffff00" stroke="#666600" stroke-width="0.85"/><circle cx="442.5" cy="362.7" r="3.15" fill="#ffff00" stroke="#666600" stroke-width="0.85"/><circle cx="463.6" cy="362.8" r="3.15" fill="#ffff00" stroke="#666600" stroke-width="0.85"/><circle cx="499.4" cy="332.5" r="3.15" fill="#ffff00" stroke="#666600" stroke-width="0.85"/><circle cx="470.8" cy="338.1" r="3.15" fill="#ffff00" stroke="#666600" stroke-width="0.85"/><circle cx="468.75" cy="346.5" r="3.15" fill="#ffff00" stroke="#666600" stroke-width="0.85"/><circle cx="472.9" cy="362.5" r="3.15" fill="#ffff00" stroke="#666600" stroke-width="0.85"/><circle cx="465" cy="362.7" r="3.15" fill="#ffff00" stroke="#666600" stroke-width="0.85"/><circle cx="444" cy="364.4" r="3.15" fill="#ffff00" stroke="#666600" stroke-width="0.85"/><circle cx="445" cy="367.5" r="3.15" fill="#ffff00" stroke="#666600" stroke-width="0.85"/><circle cx="455.4" cy="370.6" r="3.15" fill="#ffff00" stroke="#666600" stroke-width="0.85"/><circle cx="444.6" cy="386.25" r="3.15" fill="#ffff00" stroke="#666600" stroke-width="0.85"/><circle cx="440.8" cy="392.5" r="3.15" fill="#ffff00" stroke="#666600" stroke-width="0.85"/><circle cx="398.1" cy="392.1" r="3.15" fill="#ffff00" stroke="#666600" stroke-width="0.85"/><circle cx="457.5" cy="404.4" r="3.15" fill="#ffff00" stroke="#666600" stroke-width="0.85"/><circle cx="499" cy="376.25" r="3.15" fill="#ffff00" stroke="#666600" stroke-width="0.85"/><circle cx="513.5" cy="381" r="3.15" fill="#ffff00" stroke="#666600" stroke-width="0.85"/><circle cx="475.8" cy="390.8" r="3.15" fill="#ffff00" stroke="#666600" stroke-width="0.85"/><circle cx="472.7" cy="394" r="3.15" fill="#ffff00" stroke="#666600" stroke-width="0.85"/><circle cx="423.1" cy="372.7" r="3.15" fill="#ff0000" stroke="#7a0000" stroke-width="0.85"/><circle cx="436.25" cy="402.5" r="3.15" fill="#ff0000" stroke="#7a0000" stroke-width="0.85"/><circle cx="448.75" cy="404.4" r="3.15" fill="#ff0000" stroke="#7a0000" stroke-width="0.85"/><circle cx="456.5" cy="408.1" r="3.15" fill="#ff0000" stroke="#7a0000" stroke-width="0.85"/><circle cx="461.7" cy="411.7" r="3.15" fill="#ff0000" stroke="#7a0000" stroke-width="0.85"/><circle cx="449.2" cy="417.9" r="3.15" fill="#ff0000" stroke="#7a0000" stroke-width="0.85"/><circle cx="439.2" cy="426.5" r="3.15" fill="#ff0000" stroke="#7a0000" stroke-width="0.85"/><circle cx="451.7" cy="427.9" r="3.15" fill="#ff0000" stroke="#7a0000" stroke-width="0.85"/><circle cx="433.5" cy="430.4" r="3.15" fill="#ff0000" stroke="#7a0000" stroke-width="0.85"/><circle cx="380" cy="449.2" r="3.15" fill="#ff0000" stroke="#7a0000" stroke-width="0.85"/><circle cx="404" cy="439.4" r="3.15" fill="#ff0000" stroke="#7a0000" stroke-width="0.85"/><circle cx="407.1" cy="444.6" r="3.15" fill="#ff0000" stroke="#7a0000" stroke-width="0.85"/><circle cx="408.5" cy="447.7" r="3.15" fill="#ff0000" stroke="#7a0000" stroke-width="0.85"/><circle cx="413.75" cy="445.6" r="3.15" fill="#ff0000" stroke="#7a0000" stroke-width="0.85"/><circle cx="414.8" cy="448.75" r="3.15" fill="#ff0000" stroke="#7a0000" stroke-width="0.85"/><circle cx="420.4" cy="443.5" r="3.15" fill="#ff0000" stroke="#7a0000" stroke-width="0.85"/><circle cx="427.9" cy="447.7" r="3.15" fill="#ff0000" stroke="#7a0000" stroke-width="0.85"/><circle cx="432.5" cy="442.5" r="3.15" fill="#ff0000" stroke="#7a0000" stroke-width="0.85"/><circle cx="451.7" cy="439.4" r="3.15" fill="#ff0000" stroke="#7a0000" stroke-width="0.85"/><circle cx="457.5" cy="441.5" r="3.15" fill="#ff0000" stroke="#7a0000" stroke-width="0.85"/><circle cx="461.7" cy="438.3" r="3.15" fill="#ff0000" stroke="#7a0000" stroke-width="0.85"/><circle cx="464.8" cy="444.6" r="3.15" fill="#ff0000" stroke="#7a0000" stroke-width="0.85"/><circle cx="465.8" cy="446.7" r="3.15" fill="#ff0000" stroke="#7a0000" stroke-width="0.85"/><circle cx="449.2" cy="446.7" r="3.15" fill="#ff0000" stroke="#7a0000" stroke-width="0.85"/><circle cx="451.25" cy="449.8" r="3.15" fill="#ff0000" stroke="#7a0000" stroke-width="0.85"/><circle cx="472.9" cy="433.75" r="3.15" fill="#ff0000" stroke="#7a0000" stroke-width="0.85"/><circle cx="477.9" cy="450.4" r="3.15" fill="#ff0000" stroke="#7a0000" stroke-width="0.85"/><circle cx="469.6" cy="454" r="3.15" fill="#ff0000" stroke="#7a0000" stroke-width="0.85"/><circle cx="477.1" cy="454.5" r="3.15" fill="#ff0000" stroke="#7a0000" stroke-width="0.85"/><circle cx="514.6" cy="454.4" r="3.15" fill="#ff0000" stroke="#7a0000" stroke-width="0.85"/><circle cx="412.7" cy="454.2" r="3.15" fill="#ff0000" stroke="#3a0000" stroke-width="1.0"/><circle cx="447.1" cy="454.2" r="3.15" fill="#ff0000" stroke="#3a0000" stroke-width="1.0"/><circle cx="409.6" cy="454.2" r="3.15" fill="#ff0000" stroke="#3a0000" stroke-width="1.0"/><circle cx="416.9" cy="454.2" r="3.15" fill="#ff0000" stroke="#3a0000" stroke-width="1.0"/><circle cx="400.8" cy="454.2" r="3.15" fill="#ff0000" stroke="#3a0000" stroke-width="1.0"/><circle cx="420" cy="454.2" r="3.15" fill="#ff0000" stroke="#3a0000" stroke-width="1.0"/><circle cx="391.9" cy="454.2" r="3.15" fill="#ff0000" stroke="#3a0000" stroke-width="1.0"/><circle cx="388.75" cy="454.2" r="3.15" fill="#ff0000" stroke="#3a0000" stroke-width="1.0"/><circle cx="463.75" cy="454.2" r="3.15" fill="#ff0000" stroke="#3a0000" stroke-width="1.0"/><circle cx="434.6" cy="454.2" r="3.15" fill="#ff0000" stroke="#3a0000" stroke-width="1.0"/><circle cx="432.5" cy="454.2" r="3.15" fill="#ff0000" stroke="#3a0000" stroke-width="1.0"/><circle cx="395" cy="454.2" r="3.15" fill="#ff0000" stroke="#3a0000" stroke-width="1.0"/><circle cx="451.25" cy="454.2" r="3.15" fill="#ff0000" stroke="#3a0000" stroke-width="1.0"/><circle cx="458.5" cy="454.2" r="3.15" fill="#ff0000" stroke="#3a0000" stroke-width="1.0"/><circle cx="398.1" cy="454.2" r="3.15" fill="#ff0000" stroke="#3a0000" stroke-width="1.0"/><circle cx="437.7" cy="454.2" r="3.15" fill="#ff0000" stroke="#3a0000" stroke-width="1.0"/><circle cx="444" cy="454.2" r="3.15" fill="#ff0000" stroke="#3a0000" stroke-width="1.0"/><circle cx="466.5" cy="454.2" r="3.15" fill="#ff0000" stroke="#3a0000" stroke-width="1.0"/><circle cx="440.8" cy="454.2" r="3.15" fill="#ff0000" stroke="#3a0000" stroke-width="1.0"/><circle cx="426.25" cy="454.2" r="3.15" fill="#ff0000" stroke="#3a0000" stroke-width="1.0"/><circle cx="367.5" cy="274.6" r="3.15" fill="#0000ff" stroke="#000090" stroke-width="0.85"/><circle cx="428.3" cy="276" r="3.15" fill="#0000ff" stroke="#000090" stroke-width="0.85"/><circle cx="455.4" cy="271.5" r="3.15" fill="#0000ff" stroke="#000090" stroke-width="0.85"/><circle cx="464.2" cy="271.5" r="3.15" fill="#0000ff" stroke="#000090" stroke-width="0.85"/><circle cx="469.5" cy="275.6" r="3.15" fill="#0000ff" stroke="#000090" stroke-width="0.85"/><circle cx="445.6" cy="309.4" r="3.15" fill="#0000ff" stroke="#000090" stroke-width="0.85"/><circle cx="466.8" cy="313.1" r="3.15" fill="#0000ff" stroke="#000090" stroke-width="0.85"/><circle cx="435.2" cy="331.5" r="3.15" fill="#0000ff" stroke="#000090" stroke-width="0.85"/><circle cx="541" cy="277.1" r="3.15" fill="#0000ff" stroke="#000090" stroke-width="0.85"/><circle cx="533.75" cy="273.5" r="3.15" fill="#0000ff" stroke="#000090" stroke-width="0.85"/><circle cx="512.9" cy="284" r="3.15" fill="#0000ff" stroke="#000090" stroke-width="0.85"/><circle cx="532.7" cy="286" r="3.15" fill="#0000ff" stroke="#000090" stroke-width="0.85"/><circle cx="534.8" cy="289.2" r="3.15" fill="#0000ff" stroke="#000090" stroke-width="0.85"/><circle cx="474.2" cy="292.7" r="3.15" fill="#0000ff" stroke="#000090" stroke-width="0.85"/><circle cx="515.4" cy="295.4" r="3.15" fill="#0000ff" stroke="#000090" stroke-width="0.85"/><circle cx="549.4" cy="308.5" r="3.15" fill="#0000ff" stroke="#000090" stroke-width="0.85"/><circle cx="498.3" cy="273" r="3.15" fill="#0000ff" stroke="#000090" stroke-width="0.85"/><circle cx="517.1" cy="274.5" r="3.15" fill="#0000ff" stroke="#000090" stroke-width="0.85"/><circle cx="525.4" cy="273.7" r="3.15" fill="#0000ff" stroke="#000090" stroke-width="0.85"/><circle cx="552.5" cy="271.5" r="3.15" fill="#0000ff" stroke="#000050" stroke-width="1.0"/><circle cx="520.2" cy="271.5" r="3.15" fill="#0000ff" stroke="#000050" stroke-width="1.0"/><circle cx="540" cy="271.5" r="3.15" fill="#0000ff" stroke="#000050" stroke-width="1.0"/><circle cx="483.75" cy="271.5" r="3.15" fill="#0000ff" stroke="#000050" stroke-width="1.0"/><circle cx="531.7" cy="271.5" r="3.15" fill="#0000ff" stroke="#000050" stroke-width="1.0"/><circle cx="493.1" cy="271.5" r="3.15" fill="#0000ff" stroke="#000050" stroke-width="1.0"/><circle cx="480.6" cy="271.5" r="3.15" fill="#0000ff" stroke="#000050" stroke-width="1.0"/><circle cx="504.6" cy="271.5" r="3.15" fill="#0000ff" stroke="#000050" stroke-width="1.0"/><circle cx="570.2" cy="271.5" r="3.15" fill="#0000ff" stroke="#000050" stroke-width="1.0"/><circle cx="548.3" cy="271.5" r="3.15" fill="#0000ff" stroke="#000050" stroke-width="1.0"/><circle cx="487.9" cy="271.5" r="3.15" fill="#0000ff" stroke="#000050" stroke-width="1.0"/><circle cx="512.9" cy="271.5" r="3.15" fill="#0000ff" stroke="#000050" stroke-width="1.0"/><circle cx="527.5" cy="271.5" r="3.15" fill="#0000ff" stroke="#000050" stroke-width="1.0"/><circle cx="557.7" cy="271.5" r="3.15" fill="#0000ff" stroke="#000050" stroke-width="1.0"/><circle cx="535.8" cy="271.5" r="3.15" fill="#0000ff" stroke="#000050" stroke-width="1.0"/><circle cx="566" cy="271.5" r="3.15" fill="#0000ff" stroke="#000050" stroke-width="1.0"/><circle cx="477.5" cy="271.5" r="3.15" fill="#0000ff" stroke="#000050" stroke-width="1.0"/><circle cx="509.8" cy="271.5" r="3.15" fill="#0000ff" stroke="#000050" stroke-width="1.0"/><circle cx="544.2" cy="271.5" r="3.15" fill="#0000ff" stroke="#000050" stroke-width="1.0"/></g>
<line x1="343.2" y1="271.60" x2="348.2" y2="271.60" stroke="#222" stroke-width="1.1"/>
<text transform="translate(336.45,271.60) rotate(-90)" text-anchor="middle" font-size="12">1.0</text>
<line x1="343.2" y1="317.32" x2="348.2" y2="317.32" stroke="#222" stroke-width="1.1"/>
<text transform="translate(336.45,317.32) rotate(-90)" text-anchor="middle" font-size="12">0.5</text>
<line x1="343.2" y1="363.05" x2="348.2" y2="363.05" stroke="#222" stroke-width="1.1"/>
<text transform="translate(336.45,363.05) rotate(-90)" text-anchor="middle" font-size="12">0.0</text>
<line x1="343.2" y1="408.77" x2="348.2" y2="408.77" stroke="#222" stroke-width="1.1"/>
<text transform="translate(336.45,408.77) rotate(-90)" text-anchor="middle" font-size="12">−0.5</text>
<line x1="343.2" y1="454.50" x2="348.2" y2="454.50" stroke="#222" stroke-width="1.1"/>
<text transform="translate(336.45,454.50) rotate(-90)" text-anchor="middle" font-size="12">−1.0</text>
<text transform="translate(315.90,363.90) rotate(-90)" text-anchor="middle" font-size="13.35">N lim. <tspan font-family="Liberation Mono" font-size="20.5">←</tspan> N+P lim. <tspan font-family="Liberation Mono" font-size="20.5">→</tspan> P lim.</text>
<text x="310.86" y="272.75" font-size="17" font-weight="bold">E</text>
<line x1="384.70" y1="461.59999999999997" x2="384.70" y2="467.09999999999997" stroke="#222" stroke-width="1.1"/>
<text x="384.70" y="481.20" text-anchor="middle" font-size="12">10</text>
<line x1="454.18" y1="461.59999999999997" x2="454.18" y2="467.09999999999997" stroke="#222" stroke-width="1.1"/>
<text x="454.18" y="481.20" text-anchor="middle" font-size="12">20</text>
<line x1="546.02" y1="461.59999999999997" x2="546.02" y2="467.09999999999997" stroke="#222" stroke-width="1.1"/>
<text x="546.02" y="481.20" text-anchor="middle" font-size="12">50</text>
<text x="471.80" y="499.20" text-anchor="middle" font-size="13.2">BAN : BAP</text>
<rect x="349.4" y="523.4" width="240.20000000000005" height="197.19999999999993" fill="none" stroke="#1a1a1a" stroke-width="1.4"/>
<line x1="496.0" y1="523.4" x2="496.0" y2="720.5999999999999" stroke="#00ff00" stroke-width="3.3" stroke-linecap="round"/>
<line x1="349.4" y1="591.57" x2="589.6" y2="591.57" stroke="#7f7f7f" stroke-width="1.3" stroke-dasharray="6.3 4.61" stroke-dashoffset="0.7"/>
<line x1="349.4" y1="652.53" x2="589.6" y2="652.53" stroke="#7f7f7f" stroke-width="1.3" stroke-dasharray="6.3 4.61" stroke-dashoffset="0.7"/>
<polyline points="362.70,711.68 364.84,711.47 366.98,711.24 369.11,711.00 371.25,710.73 373.39,710.45 375.53,710.14 377.67,709.81 379.80,709.46 381.94,709.08 384.08,708.67 386.22,708.23 388.36,707.76 390.49,707.26 392.63,706.72 394.77,706.14 396.91,705.52 399.05,704.86 401.18,704.15 403.32,703.39 405.46,702.58 407.60,701.72 409.74,700.80 411.87,699.81 414.01,698.76 416.15,697.65 418.29,696.46 420.43,695.20 422.56,693.86 424.70,692.44 426.84,690.94 428.98,689.35 431.12,687.67 433.25,685.90 435.39,684.03 437.53,682.07 439.67,680.00 441.81,677.84 443.94,675.58 446.08,673.22 448.22,670.75 450.36,668.19 452.50,665.52 454.63,662.76 456.77,659.91 458.91,656.97 461.05,653.94 463.19,650.83 465.32,647.64 467.46,644.39 469.60,641.08 471.74,637.72 473.88,634.31 476.01,630.87 478.15,627.40 480.29,623.92 482.43,620.43 484.57,616.94 486.70,613.47 488.84,610.02 490.98,606.60 493.12,603.23 495.26,599.90 497.39,596.64 499.53,593.44 501.67,590.31 503.81,587.26 505.95,584.30 508.08,581.42 510.22,578.64 512.36,575.95 514.50,573.36 516.64,570.87 518.77,568.48 520.91,566.20 523.05,564.01 525.19,561.92 527.33,559.93 529.46,558.04 531.60,556.25 533.74,554.55 535.88,552.93 538.02,551.41 540.15,549.97 542.29,548.61 544.43,547.33 546.57,546.13 548.71,545.00 550.84,543.93 552.98,542.93 555.12,541.99 557.26,541.12 559.40,540.29 561.53,539.52 563.67,538.80 565.81,538.13 567.95,537.50 570.09,536.91 572.22,536.36 574.36,535.85 576.50,535.37" fill="none" stroke="#000" stroke-width="2.6" stroke-linecap="butt" stroke-linejoin="round"/>
<g><circle cx="452.3" cy="622.2" r="3.15" fill="#ffffff" stroke="#8c8c8c" stroke-width="0.85"/><circle cx="459.2" cy="642.7" r="3.15" fill="#ffffff" stroke="#8c8c8c" stroke-width="0.85"/><circle cx="412.3" cy="655.6" r="3.15" fill="#ffffff" stroke="#8c8c8c" stroke-width="0.85"/><circle cx="500.4" cy="610.6" r="3.15" fill="#ffffff" stroke="#8c8c8c" stroke-width="0.85"/><circle cx="511.9" cy="618.5" r="3.15" fill="#ffffff" stroke="#8c8c8c" stroke-width="0.85"/><circle cx="530" cy="618" r="3.15" fill="#ffffff" stroke="#8c8c8c" stroke-width="0.85"/><circle cx="485.8" cy="623.2" r="3.15" fill="#ffffff" stroke="#8c8c8c" stroke-width="0.85"/><circle cx="502.3" cy="622.2" r="3.15" fill="#ffffff" stroke="#8c8c8c" stroke-width="0.85"/><circle cx="507.3" cy="622.2" r="3.15" fill="#ffffff" stroke="#8c8c8c" stroke-width="0.85"/><circle cx="518.75" cy="629.2" r="3.15" fill="#ffffff" stroke="#8c8c8c" stroke-width="0.85"/><circle cx="429.4" cy="582.1" r="3.15" fill="#ffff00" stroke="#666600" stroke-width="0.85"/><circle cx="463.1" cy="586.25" r="3.15" fill="#ffff00" stroke="#666600" stroke-width="0.85"/><circle cx="440.2" cy="615.9" r="3.15" fill="#ffff00" stroke="#666600" stroke-width="0.85"/><circle cx="421" cy="621.9" r="3.15" fill="#ffff00" stroke="#666600" stroke-width="0.85"/><circle cx="423.75" cy="621.9" r="3.15" fill="#ffff00" stroke="#666600" stroke-width="0.85"/><circle cx="426.25" cy="621.9" r="3.15" fill="#ffff00" stroke="#666600" stroke-width="0.85"/><circle cx="435.8" cy="625" r="3.15" fill="#ffff00" stroke="#666600" stroke-width="0.85"/><circle cx="447.1" cy="621.9" r="3.15" fill="#ffff00" stroke="#666600" stroke-width="0.85"/><circle cx="458.5" cy="621.9" r="3.15" fill="#ffff00" stroke="#666600" stroke-width="0.85"/><circle cx="442.3" cy="635.2" r="3.15" fill="#ffff00" stroke="#666600" stroke-width="0.85"/><circle cx="468.3" cy="640" r="3.15" fill="#ffff00" stroke="#666600" stroke-width="0.85"/><circle cx="449.2" cy="650.8" r="3.15" fill="#ffff00" stroke="#666600" stroke-width="0.85"/><circle cx="441.5" cy="663.3" r="3.15" fill="#ffff00" stroke="#666600" stroke-width="0.85"/><circle cx="512.5" cy="591.5" r="3.15" fill="#ffff00" stroke="#666600" stroke-width="0.85"/><circle cx="502.5" cy="597.1" r="3.15" fill="#ffff00" stroke="#666600" stroke-width="0.85"/><circle cx="482.3" cy="605.4" r="3.15" fill="#ffff00" stroke="#666600" stroke-width="0.85"/><circle cx="472.3" cy="617.2" r="3.15" fill="#ffff00" stroke="#666600" stroke-width="0.85"/><circle cx="472.9" cy="622" r="3.15" fill="#ffff00" stroke="#666600" stroke-width="0.85"/><circle cx="489" cy="616.5" r="3.15" fill="#ffff00" stroke="#666600" stroke-width="0.85"/><circle cx="503.1" cy="630" r="3.15" fill="#ffff00" stroke="#666600" stroke-width="0.85"/><circle cx="468.75" cy="640" r="3.15" fill="#ffff00" stroke="#666600" stroke-width="0.85"/><circle cx="488.3" cy="645.2" r="3.15" fill="#ffff00" stroke="#666600" stroke-width="0.85"/><circle cx="482.3" cy="651.5" r="3.15" fill="#ffff00" stroke="#666600" stroke-width="0.85"/><circle cx="517.5" cy="652.9" r="3.15" fill="#ffff00" stroke="#666600" stroke-width="0.85"/><circle cx="529.6" cy="650" r="3.15" fill="#ffff00" stroke="#666600" stroke-width="0.85"/><circle cx="479.6" cy="665" r="3.15" fill="#ffff00" stroke="#666600" stroke-width="0.85"/><circle cx="454.4" cy="631.25" r="3.15" fill="#ff0000" stroke="#7a0000" stroke-width="0.85"/><circle cx="406" cy="661.25" r="3.15" fill="#ff0000" stroke="#7a0000" stroke-width="0.85"/><circle cx="469.4" cy="662.9" r="3.15" fill="#ff0000" stroke="#7a0000" stroke-width="0.85"/><circle cx="436" cy="676.9" r="3.15" fill="#ff0000" stroke="#7a0000" stroke-width="0.85"/><circle cx="467.9" cy="685.4" r="3.15" fill="#ff0000" stroke="#7a0000" stroke-width="0.85"/><circle cx="450.8" cy="692.7" r="3.15" fill="#ff0000" stroke="#7a0000" stroke-width="0.85"/><circle cx="436.7" cy="697.3" r="3.15" fill="#ff0000" stroke="#7a0000" stroke-width="0.85"/><circle cx="416.5" cy="698.3" r="3.15" fill="#ff0000" stroke="#7a0000" stroke-width="0.85"/><circle cx="421.7" cy="700.4" r="3.15" fill="#ff0000" stroke="#7a0000" stroke-width="0.85"/><circle cx="455.4" cy="701" r="3.15" fill="#ff0000" stroke="#7a0000" stroke-width="0.85"/><circle cx="463.75" cy="703.1" r="3.15" fill="#ff0000" stroke="#7a0000" stroke-width="0.85"/><circle cx="433.5" cy="702.1" r="3.15" fill="#ff0000" stroke="#7a0000" stroke-width="0.85"/><circle cx="430" cy="705" r="3.15" fill="#ff0000" stroke="#7a0000" stroke-width="0.85"/><circle cx="417.9" cy="706.7" r="3.15" fill="#ff0000" stroke="#7a0000" stroke-width="0.85"/><circle cx="422.7" cy="706.7" r="3.15" fill="#ff0000" stroke="#7a0000" stroke-width="0.85"/><circle cx="438.3" cy="706.7" r="3.15" fill="#ff0000" stroke="#7a0000" stroke-width="0.85"/><circle cx="441.25" cy="707.7" r="3.15" fill="#ff0000" stroke="#7a0000" stroke-width="0.85"/><circle cx="451.25" cy="708.75" r="3.15" fill="#ff0000" stroke="#7a0000" stroke-width="0.85"/><circle cx="471.25" cy="662.9" r="3.15" fill="#ff0000" stroke="#7a0000" stroke-width="0.85"/><circle cx="476.5" cy="667.1" r="3.15" fill="#ff0000" stroke="#7a0000" stroke-width="0.85"/><circle cx="478.1" cy="670.8" r="3.15" fill="#ff0000" stroke="#7a0000" stroke-width="0.85"/><circle cx="468.1" cy="685.4" r="3.15" fill="#ff0000" stroke="#7a0000" stroke-width="0.85"/><circle cx="471.25" cy="689.6" r="3.15" fill="#ff0000" stroke="#7a0000" stroke-width="0.85"/><circle cx="483.75" cy="686.9" r="3.15" fill="#ff0000" stroke="#7a0000" stroke-width="0.85"/><circle cx="513.3" cy="697.9" r="3.15" fill="#ff0000" stroke="#7a0000" stroke-width="0.85"/><circle cx="465" cy="703.5" r="3.15" fill="#ff0000" stroke="#7a0000" stroke-width="0.85"/><circle cx="477.1" cy="704.2" r="3.15" fill="#ff0000" stroke="#7a0000" stroke-width="0.85"/><circle cx="577.1" cy="707.1" r="3.15" fill="#ff0000" stroke="#7a0000" stroke-width="0.85"/><circle cx="458.5" cy="712.9" r="3.15" fill="#ff0000" stroke="#3a0000" stroke-width="1.0"/><circle cx="481.7" cy="712.9" r="3.15" fill="#ff0000" stroke="#3a0000" stroke-width="1.0"/><circle cx="430.4" cy="712.9" r="3.15" fill="#ff0000" stroke="#3a0000" stroke-width="1.0"/><circle cx="471.25" cy="712.9" r="3.15" fill="#ff0000" stroke="#3a0000" stroke-width="1.0"/><circle cx="417.9" cy="712.9" r="3.15" fill="#ff0000" stroke="#3a0000" stroke-width="1.0"/><circle cx="448.1" cy="712.9" r="3.15" fill="#ff0000" stroke="#3a0000" stroke-width="1.0"/><circle cx="441.9" cy="712.9" r="3.15" fill="#ff0000" stroke="#3a0000" stroke-width="1.0"/><circle cx="423.75" cy="712.9" r="3.15" fill="#ff0000" stroke="#3a0000" stroke-width="1.0"/><circle cx="445" cy="712.9" r="3.15" fill="#ff0000" stroke="#3a0000" stroke-width="1.0"/><circle cx="466" cy="712.9" r="3.15" fill="#ff0000" stroke="#3a0000" stroke-width="1.0"/><circle cx="489" cy="712.9" r="3.15" fill="#ff0000" stroke="#3a0000" stroke-width="1.0"/><circle cx="421" cy="712.9" r="3.15" fill="#ff0000" stroke="#3a0000" stroke-width="1.0"/><circle cx="362.1" cy="712.9" r="3.15" fill="#ff0000" stroke="#3a0000" stroke-width="1.0"/><circle cx="474.4" cy="712.9" r="3.15" fill="#ff0000" stroke="#3a0000" stroke-width="1.0"/><circle cx="492.5" cy="712.9" r="3.15" fill="#ff0000" stroke="#3a0000" stroke-width="1.0"/><circle cx="439.4" cy="712.9" r="3.15" fill="#ff0000" stroke="#3a0000" stroke-width="1.0"/><circle cx="454.4" cy="712.9" r="3.15" fill="#ff0000" stroke="#3a0000" stroke-width="1.0"/><circle cx="451.25" cy="712.9" r="3.15" fill="#ff0000" stroke="#3a0000" stroke-width="1.0"/><circle cx="427.9" cy="712.9" r="3.15" fill="#ff0000" stroke="#3a0000" stroke-width="1.0"/><circle cx="404.4" cy="712.9" r="3.15" fill="#ff0000" stroke="#3a0000" stroke-width="1.0"/><circle cx="468.1" cy="712.9" r="3.15" fill="#ff0000" stroke="#3a0000" stroke-width="1.0"/><circle cx="412.7" cy="712.9" r="3.15" fill="#ff0000" stroke="#3a0000" stroke-width="1.0"/><circle cx="399.6" cy="533.5" r="3.15" fill="#0000ff" stroke="#000090" stroke-width="0.85"/><circle cx="413.75" cy="530.8" r="3.15" fill="#0000ff" stroke="#000090" stroke-width="0.85"/><circle cx="430" cy="530" r="3.15" fill="#0000ff" stroke="#000090" stroke-width="0.85"/><circle cx="453.3" cy="530" r="3.15" fill="#0000ff" stroke="#000090" stroke-width="0.85"/><circle cx="453.3" cy="535" r="3.15" fill="#0000ff" stroke="#000090" stroke-width="0.85"/><circle cx="465.8" cy="530.4" r="3.15" fill="#0000ff" stroke="#000090" stroke-width="0.85"/><circle cx="467.9" cy="535" r="3.15" fill="#0000ff" stroke="#000090" stroke-width="0.85"/><circle cx="447.5" cy="551.7" r="3.15" fill="#0000ff" stroke="#000090" stroke-width="0.85"/><circle cx="470.8" cy="571.7" r="3.15" fill="#0000ff" stroke="#000090" stroke-width="0.85"/><circle cx="443.5" cy="590.4" r="3.15" fill="#0000ff" stroke="#000090" stroke-width="0.85"/><circle cx="468.75" cy="534.6" r="3.15" fill="#0000ff" stroke="#000090" stroke-width="0.85"/><circle cx="515.4" cy="536" r="3.15" fill="#0000ff" stroke="#000090" stroke-width="0.85"/><circle cx="536.25" cy="534.2" r="3.15" fill="#0000ff" stroke="#000090" stroke-width="0.85"/><circle cx="542.5" cy="532.9" r="3.15" fill="#0000ff" stroke="#000090" stroke-width="0.85"/><circle cx="564.6" cy="532.9" r="3.15" fill="#0000ff" stroke="#000090" stroke-width="0.85"/><circle cx="524.8" cy="542.5" r="3.15" fill="#0000ff" stroke="#000090" stroke-width="0.85"/><circle cx="524" cy="545.4" r="3.15" fill="#0000ff" stroke="#000090" stroke-width="0.85"/><circle cx="557.3" cy="548.1" r="3.15" fill="#0000ff" stroke="#000090" stroke-width="0.85"/><circle cx="518.75" cy="554.4" r="3.15" fill="#0000ff" stroke="#000090" stroke-width="0.85"/><circle cx="492.1" cy="568.5" r="3.15" fill="#0000ff" stroke="#000090" stroke-width="0.85"/><circle cx="501" cy="567.5" r="3.15" fill="#0000ff" stroke="#000090" stroke-width="0.85"/><circle cx="507.7" cy="532" r="3.15" fill="#0000ff" stroke="#000090" stroke-width="0.85"/><circle cx="546.25" cy="530.4" r="3.15" fill="#0000ff" stroke="#000050" stroke-width="1.0"/><circle cx="548.3" cy="530.4" r="3.15" fill="#0000ff" stroke="#000050" stroke-width="1.0"/><circle cx="520.2" cy="530.4" r="3.15" fill="#0000ff" stroke="#000050" stroke-width="1.0"/><circle cx="489" cy="530.4" r="3.15" fill="#0000ff" stroke="#000050" stroke-width="1.0"/><circle cx="524.4" cy="530.4" r="3.15" fill="#0000ff" stroke="#000050" stroke-width="1.0"/><circle cx="498.3" cy="530.4" r="3.15" fill="#0000ff" stroke="#000050" stroke-width="1.0"/><circle cx="485.8" cy="530.4" r="3.15" fill="#0000ff" stroke="#000050" stroke-width="1.0"/><circle cx="542.1" cy="530.4" r="3.15" fill="#0000ff" stroke="#000050" stroke-width="1.0"/><circle cx="495.2" cy="530.4" r="3.15" fill="#0000ff" stroke="#000050" stroke-width="1.0"/><circle cx="492.1" cy="530.4" r="3.15" fill="#0000ff" stroke="#000050" stroke-width="1.0"/><circle cx="533.75" cy="530.4" r="3.15" fill="#0000ff" stroke="#000050" stroke-width="1.0"/><circle cx="510.4" cy="530.4" r="3.15" fill="#0000ff" stroke="#000050" stroke-width="1.0"/><circle cx="503.5" cy="530.4" r="3.15" fill="#0000ff" stroke="#000050" stroke-width="1.0"/><circle cx="530.6" cy="530.4" r="3.15" fill="#0000ff" stroke="#000050" stroke-width="1.0"/><circle cx="527.5" cy="530.4" r="3.15" fill="#0000ff" stroke="#000050" stroke-width="1.0"/><circle cx="537.9" cy="530.4" r="3.15" fill="#0000ff" stroke="#000050" stroke-width="1.0"/><circle cx="482.7" cy="530.4" r="3.15" fill="#0000ff" stroke="#000050" stroke-width="1.0"/></g>
<line x1="462.8" y1="720.5999999999999" x2="462.8" y2="523.4" stroke="#7f7f7f" stroke-width="1.3" stroke-dasharray="6.3 4.61" stroke-dashoffset="0"/>
<line x1="499.7" y1="720.5999999999999" x2="499.7" y2="523.4" stroke="#7f7f7f" stroke-width="1.3" stroke-dasharray="6.3 4.61" stroke-dashoffset="0"/>
<line x1="344.4" y1="530.60" x2="349.4" y2="530.60" stroke="#222" stroke-width="1.1"/>
<text transform="translate(337.65,530.60) rotate(-90)" text-anchor="middle" font-size="12">1.0</text>
<line x1="344.4" y1="576.33" x2="349.4" y2="576.33" stroke="#222" stroke-width="1.1"/>
<text transform="translate(337.65,576.33) rotate(-90)" text-anchor="middle" font-size="12">0.5</text>
<line x1="344.4" y1="622.05" x2="349.4" y2="622.05" stroke="#222" stroke-width="1.1"/>
<text transform="translate(337.65,622.05) rotate(-90)" text-anchor="middle" font-size="12">0.0</text>
<line x1="344.4" y1="667.78" x2="349.4" y2="667.78" stroke="#222" stroke-width="1.1"/>
<text transform="translate(337.65,667.78) rotate(-90)" text-anchor="middle" font-size="12">−0.5</text>
<line x1="344.4" y1="713.50" x2="349.4" y2="713.50" stroke="#222" stroke-width="1.1"/>
<text transform="translate(337.65,713.50) rotate(-90)" text-anchor="middle" font-size="12">−1.0</text>
<text transform="translate(313.70,621.90) rotate(-90)" text-anchor="middle" font-size="13.35">N lim. <tspan font-family="Liberation Mono" font-size="20.5">←</tspan> N+P lim. <tspan font-family="Liberation Mono" font-size="20.5">→</tspan> P lim.</text>
<text x="307.60" y="528.75" font-size="17" font-weight="bold">F</text>
<line x1="353.00" y1="720.5999999999999" x2="353.00" y2="726.0999999999999" stroke="#222" stroke-width="1.1"/>
<text x="353.00" y="740.70" text-anchor="middle" font-size="12">0.02</text>
<line x1="386.51" y1="720.5999999999999" x2="386.51" y2="726.0999999999999" stroke="#222" stroke-width="1.1"/>
<line x1="411.85" y1="720.5999999999999" x2="411.85" y2="726.0999999999999" stroke="#222" stroke-width="1.1"/>
<text x="411.85" y="740.70" text-anchor="middle" font-size="12">0.10</text>
<line x1="437.20" y1="720.5999999999999" x2="437.20" y2="726.0999999999999" stroke="#222" stroke-width="1.1"/>
<line x1="470.71" y1="720.5999999999999" x2="470.71" y2="726.0999999999999" stroke="#222" stroke-width="1.1"/>
<text x="470.71" y="740.70" text-anchor="middle" font-size="12">0.50</text>
<line x1="496.05" y1="720.5999999999999" x2="496.05" y2="726.0999999999999" stroke="#222" stroke-width="1.1"/>
<line x1="521.40" y1="720.5999999999999" x2="521.40" y2="726.0999999999999" stroke="#222" stroke-width="1.1"/>
<text x="521.40" y="740.70" text-anchor="middle" font-size="12">2.00</text>
<line x1="554.91" y1="720.5999999999999" x2="554.91" y2="726.0999999999999" stroke="#222" stroke-width="1.1"/>
<line x1="580.25" y1="720.5999999999999" x2="580.25" y2="726.0999999999999" stroke="#222" stroke-width="1.1"/>
<text x="580.25" y="740.70" text-anchor="middle" font-size="12">10.00</text>
<text x="464.50" y="760.00" text-anchor="middle" font-size="13.2">TNB = (DIN:DIP) : (TN:TP)</text>
<rect x="349.5" y="784.1" width="240.10000000000002" height="197.19999999999993" fill="none" stroke="#1a1a1a" stroke-width="1.4"/>
<line x1="460.2" y1="784.1" x2="460.2" y2="981.3" stroke="#00ff00" stroke-width="3.3" stroke-linecap="round"/>
<line x1="349.5" y1="852.27" x2="589.6" y2="852.27" stroke="#7f7f7f" stroke-width="1.3" stroke-dasharray="6.3 4.61" stroke-dashoffset="0.7"/>
<line x1="349.5" y1="913.23" x2="589.6" y2="913.23" stroke="#7f7f7f" stroke-width="1.3" stroke-dasharray="6.3 4.61" stroke-dashoffset="0.7"/>
<polyline points="361.70,972.25 363.84,972.08 365.97,971.91 368.11,971.71 370.25,971.50 372.38,971.28 374.52,971.03 376.66,970.76 378.80,970.47 380.93,970.16 383.07,969.82 385.21,969.45 387.34,969.05 389.48,968.62 391.62,968.15 393.75,967.64 395.89,967.10 398.03,966.50 400.17,965.86 402.30,965.17 404.44,964.43 406.58,963.62 408.71,962.76 410.85,961.83 412.99,960.82 415.12,959.75 417.26,958.59 419.40,957.35 421.54,956.02 423.67,954.60 425.81,953.08 427.95,951.46 430.08,949.74 432.22,947.90 434.36,945.95 436.50,943.88 438.63,941.70 440.77,939.39 442.91,936.95 445.04,934.40 447.18,931.71 449.32,928.91 451.45,925.98 453.59,922.93 455.73,919.77 457.87,916.49 460.00,913.11 462.14,909.64 464.28,906.08 466.41,902.44 468.55,898.73 470.69,894.96 472.82,891.16 474.96,887.32 477.10,883.47 479.24,879.61 481.37,875.76 483.51,871.93 485.65,868.15 487.78,864.41 489.92,860.73 492.06,857.12 494.19,853.60 496.33,850.17 498.47,846.84 500.61,843.62 502.74,840.51 504.88,837.52 507.02,834.64 509.15,831.90 511.29,829.27 513.43,826.77 515.56,824.40 517.70,822.15 519.84,820.02 521.98,818.01 524.11,816.11 526.25,814.33 528.39,812.65 530.52,811.08 532.66,809.61 534.80,808.23 536.93,806.94 539.07,805.74 541.21,804.62 543.35,803.58 545.48,802.61 547.62,801.71 549.76,800.88 551.89,800.10 554.03,799.38 556.17,798.72 558.30,798.10 560.44,797.53 562.58,797.00 564.71,796.51 566.85,796.06 568.99,795.64 571.13,795.26 573.26,794.90 575.40,794.58" fill="none" stroke="#000" stroke-width="2.6" stroke-linecap="butt" stroke-linejoin="round"/>
<g><circle cx="446" cy="882.7" r="3.15" fill="#ffffff" stroke="#8c8c8c" stroke-width="0.85"/><circle cx="449.2" cy="882.9" r="3.15" fill="#ffffff" stroke="#8c8c8c" stroke-width="0.85"/><circle cx="411.25" cy="916.7" r="3.15" fill="#ffffff" stroke="#8c8c8c" stroke-width="0.85"/><circle cx="481.25" cy="871.25" r="3.15" fill="#ffffff" stroke="#8c8c8c" stroke-width="0.85"/><circle cx="512.9" cy="879.6" r="3.15" fill="#ffffff" stroke="#8c8c8c" stroke-width="0.85"/><circle cx="517.1" cy="878.5" r="3.15" fill="#ffffff" stroke="#8c8c8c" stroke-width="0.85"/><circle cx="534.4" cy="882.7" r="3.15" fill="#ffffff" stroke="#8c8c8c" stroke-width="0.85"/><circle cx="483.3" cy="883.7" r="3.15" fill="#ffffff" stroke="#8c8c8c" stroke-width="0.85"/><circle cx="494.8" cy="889.6" r="3.15" fill="#ffffff" stroke="#8c8c8c" stroke-width="0.85"/><circle cx="472.9" cy="903.75" r="3.15" fill="#ffffff" stroke="#8c8c8c" stroke-width="0.85"/><circle cx="425.2" cy="842.9" r="3.15" fill="#ffff00" stroke="#666600" stroke-width="0.85"/><circle cx="463.3" cy="847.1" r="3.15" fill="#ffff00" stroke="#666600" stroke-width="0.85"/><circle cx="435.2" cy="876.5" r="3.15" fill="#ffff00" stroke="#666600" stroke-width="0.85"/><circle cx="416.9" cy="882.7" r="3.15" fill="#ffff00" stroke="#666600" stroke-width="0.85"/><circle cx="422.5" cy="882.7" r="3.15" fill="#ffff00" stroke="#666600" stroke-width="0.85"/><circle cx="430.4" cy="882.7" r="3.15" fill="#ffff00" stroke="#666600" stroke-width="0.85"/><circle cx="432.1" cy="882.7" r="3.15" fill="#ffff00" stroke="#666600" stroke-width="0.85"/><circle cx="441.5" cy="882.7" r="3.15" fill="#ffff00" stroke="#666600" stroke-width="0.85"/><circle cx="464.4" cy="882.7" r="3.15" fill="#ffff00" stroke="#666600" stroke-width="0.85"/><circle cx="429" cy="886.9" r="3.15" fill="#ffff00" stroke="#666600" stroke-width="0.85"/><circle cx="427.3" cy="896.25" r="3.15" fill="#ffff00" stroke="#666600" stroke-width="0.85"/><circle cx="459.6" cy="901" r="3.15" fill="#ffff00" stroke="#666600" stroke-width="0.85"/><circle cx="421" cy="924.4" r="3.15" fill="#ffff00" stroke="#666600" stroke-width="0.85"/><circle cx="465" cy="847.1" r="3.15" fill="#ffff00" stroke="#666600" stroke-width="0.85"/><circle cx="484.8" cy="852.3" r="3.15" fill="#ffff00" stroke="#666600" stroke-width="0.85"/><circle cx="485.2" cy="858.1" r="3.15" fill="#ffff00" stroke="#666600" stroke-width="0.85"/><circle cx="490.6" cy="866.5" r="3.15" fill="#ffff00" stroke="#666600" stroke-width="0.85"/><circle cx="476.5" cy="878.2" r="3.15" fill="#ffff00" stroke="#666600" stroke-width="0.85"/><circle cx="479.2" cy="877.2" r="3.15" fill="#ffff00" stroke="#666600" stroke-width="0.85"/><circle cx="466" cy="882.7" r="3.15" fill="#ffff00" stroke="#666600" stroke-width="0.85"/><circle cx="489.6" cy="890.6" r="3.15" fill="#ffff00" stroke="#666600" stroke-width="0.85"/><circle cx="485.8" cy="905.8" r="3.15" fill="#ffff00" stroke="#666600" stroke-width="0.85"/><circle cx="491" cy="910.8" r="3.15" fill="#ffff00" stroke="#666600" stroke-width="0.85"/><circle cx="472.3" cy="912.1" r="3.15" fill="#ffff00" stroke="#666600" stroke-width="0.85"/><circle cx="510.2" cy="914" r="3.15" fill="#ffff00" stroke="#666600" stroke-width="0.85"/><circle cx="494.8" cy="925.6" r="3.15" fill="#ffff00" stroke="#666600" stroke-width="0.85"/><circle cx="465.8" cy="892" r="3.15" fill="#ff0000" stroke="#7a0000" stroke-width="0.85"/><circle cx="407.1" cy="922.3" r="3.15" fill="#ff0000" stroke="#7a0000" stroke-width="0.85"/><circle cx="464.4" cy="924.2" r="3.15" fill="#ff0000" stroke="#7a0000" stroke-width="0.85"/><circle cx="463.75" cy="931.7" r="3.15" fill="#ff0000" stroke="#7a0000" stroke-width="0.85"/><circle cx="439.4" cy="937.5" r="3.15" fill="#ff0000" stroke="#7a0000" stroke-width="0.85"/><circle cx="452.9" cy="946.25" r="3.15" fill="#ff0000" stroke="#7a0000" stroke-width="0.85"/><circle cx="463.1" cy="947.5" r="3.15" fill="#ff0000" stroke="#7a0000" stroke-width="0.85"/><circle cx="442.1" cy="953.5" r="3.15" fill="#ff0000" stroke="#7a0000" stroke-width="0.85"/><circle cx="406" cy="961" r="3.15" fill="#ff0000" stroke="#7a0000" stroke-width="0.85"/><circle cx="418.5" cy="958.3" r="3.15" fill="#ff0000" stroke="#7a0000" stroke-width="0.85"/><circle cx="425.2" cy="959.4" r="3.15" fill="#ff0000" stroke="#7a0000" stroke-width="0.85"/><circle cx="448.75" cy="963.5" r="3.15" fill="#ff0000" stroke="#7a0000" stroke-width="0.85"/><circle cx="453.75" cy="962.5" r="3.15" fill="#ff0000" stroke="#7a0000" stroke-width="0.85"/><circle cx="461" cy="965" r="3.15" fill="#ff0000" stroke="#7a0000" stroke-width="0.85"/><circle cx="413.75" cy="966.7" r="3.15" fill="#ff0000" stroke="#7a0000" stroke-width="0.85"/><circle cx="416.9" cy="965.6" r="3.15" fill="#ff0000" stroke="#7a0000" stroke-width="0.85"/><circle cx="420" cy="967.7" r="3.15" fill="#ff0000" stroke="#7a0000" stroke-width="0.85"/><circle cx="428.3" cy="966.7" r="3.15" fill="#ff0000" stroke="#7a0000" stroke-width="0.85"/><circle cx="430.4" cy="968.75" r="3.15" fill="#ff0000" stroke="#7a0000" stroke-width="0.85"/><circle cx="440.8" cy="969.8" r="3.15" fill="#ff0000" stroke="#7a0000" stroke-width="0.85"/><circle cx="444" cy="971.9" r="3.15" fill="#ff0000" stroke="#7a0000" stroke-width="0.85"/><circle cx="452.3" cy="971.9" r="3.15" fill="#ff0000" stroke="#7a0000" stroke-width="0.85"/><circle cx="471.9" cy="927.7" r="3.15" fill="#ff0000" stroke="#7a0000" stroke-width="0.85"/><circle cx="465.6" cy="931.7" r="3.15" fill="#ff0000" stroke="#7a0000" stroke-width="0.85"/><circle cx="465" cy="947.5" r="3.15" fill="#ff0000" stroke="#7a0000" stroke-width="0.85"/><circle cx="469.8" cy="950.4" r="3.15" fill="#ff0000" stroke="#7a0000" stroke-width="0.85"/><circle cx="506.25" cy="959" r="3.15" fill="#ff0000" stroke="#7a0000" stroke-width="0.85"/><circle cx="534.4" cy="968.1" r="3.15" fill="#ff0000" stroke="#7a0000" stroke-width="0.85"/><circle cx="470.6" cy="964.2" r="3.15" fill="#ff0000" stroke="#7a0000" stroke-width="0.85"/><circle cx="482.7" cy="968.1" r="3.15" fill="#ff0000" stroke="#7a0000" stroke-width="0.85"/><circle cx="446" cy="974" r="3.15" fill="#ff0000" stroke="#3a0000" stroke-width="1.0"/><circle cx="442.9" cy="974" r="3.15" fill="#ff0000" stroke="#3a0000" stroke-width="1.0"/><circle cx="415.8" cy="974" r="3.15" fill="#ff0000" stroke="#3a0000" stroke-width="1.0"/><circle cx="424.2" cy="974" r="3.15" fill="#ff0000" stroke="#3a0000" stroke-width="1.0"/><circle cx="467.9" cy="974" r="3.15" fill="#ff0000" stroke="#3a0000" stroke-width="1.0"/><circle cx="404.4" cy="974" r="3.15" fill="#ff0000" stroke="#3a0000" stroke-width="1.0"/><circle cx="419" cy="974" r="3.15" fill="#ff0000" stroke="#3a0000" stroke-width="1.0"/><circle cx="432.5" cy="974" r="3.15" fill="#ff0000" stroke="#3a0000" stroke-width="1.0"/><circle cx="453.3" cy="974" r="3.15" fill="#ff0000" stroke="#3a0000" stroke-width="1.0"/><circle cx="396.7" cy="974" r="3.15" fill="#ff0000" stroke="#3a0000" stroke-width="1.0"/><circle cx="436.7" cy="974" r="3.15" fill="#ff0000" stroke="#3a0000" stroke-width="1.0"/><circle cx="361.7" cy="974" r="3.15" fill="#ff0000" stroke="#3a0000" stroke-width="1.0"/><circle cx="471.25" cy="974" r="3.15" fill="#ff0000" stroke="#3a0000" stroke-width="1.0"/><circle cx="463.75" cy="974" r="3.15" fill="#ff0000" stroke="#3a0000" stroke-width="1.0"/><circle cx="458.5" cy="974" r="3.15" fill="#ff0000" stroke="#3a0000" stroke-width="1.0"/><circle cx="400.8" cy="974" r="3.15" fill="#ff0000" stroke="#3a0000" stroke-width="1.0"/><circle cx="482.1" cy="974" r="3.15" fill="#ff0000" stroke="#3a0000" stroke-width="1.0"/><circle cx="392.9" cy="794.2" r="3.15" fill="#0000ff" stroke="#000090" stroke-width="0.85"/><circle cx="421" cy="792.1" r="3.15" fill="#0000ff" stroke="#000090" stroke-width="0.85"/><circle cx="424.2" cy="790.8" r="3.15" fill="#0000ff" stroke="#000090" stroke-width="0.85"/><circle cx="437.7" cy="790.8" r="3.15" fill="#0000ff" stroke="#000090" stroke-width="0.85"/><circle cx="469.4" cy="795.6" r="3.15" fill="#0000ff" stroke="#000090" stroke-width="0.85"/><circle cx="440.2" cy="812.7" r="3.15" fill="#0000ff" stroke="#000090" stroke-width="0.85"/><circle cx="456.9" cy="832.7" r="3.15" fill="#0000ff" stroke="#000090" stroke-width="0.85"/><circle cx="446.5" cy="851.25" r="3.15" fill="#0000ff" stroke="#000090" stroke-width="0.85"/><circle cx="470.2" cy="795" r="3.15" fill="#0000ff" stroke="#000090" stroke-width="0.85"/><circle cx="476.5" cy="795.6" r="3.15" fill="#0000ff" stroke="#000090" stroke-width="0.85"/><circle cx="500" cy="796.7" r="3.15" fill="#0000ff" stroke="#000090" stroke-width="0.85"/><circle cx="538.3" cy="795" r="3.15" fill="#0000ff" stroke="#000090" stroke-width="0.85"/><circle cx="558.75" cy="793.5" r="3.15" fill="#0000ff" stroke="#000090" stroke-width="0.85"/><circle cx="577.5" cy="794.2" r="3.15" fill="#0000ff" stroke="#000090" stroke-width="0.85"/><circle cx="515" cy="806" r="3.15" fill="#0000ff" stroke="#000090" stroke-width="0.85"/><circle cx="536.25" cy="803.5" r="3.15" fill="#0000ff" stroke="#000090" stroke-width="0.85"/><circle cx="525.4" cy="815.4" r="3.15" fill="#0000ff" stroke="#000090" stroke-width="0.85"/><circle cx="572.9" cy="808.75" r="3.15" fill="#0000ff" stroke="#000090" stroke-width="0.85"/><circle cx="487.9" cy="829.4" r="3.15" fill="#0000ff" stroke="#000090" stroke-width="0.85"/><circle cx="524" cy="828.3" r="3.15" fill="#0000ff" stroke="#000090" stroke-width="0.85"/><circle cx="479.6" cy="791.5" r="3.15" fill="#0000ff" stroke="#000050" stroke-width="1.0"/><circle cx="518.1" cy="791.5" r="3.15" fill="#0000ff" stroke="#000050" stroke-width="1.0"/><circle cx="521.25" cy="791.5" r="3.15" fill="#0000ff" stroke="#000050" stroke-width="1.0"/><circle cx="495.2" cy="791.5" r="3.15" fill="#0000ff" stroke="#000050" stroke-width="1.0"/><circle cx="550.4" cy="791.5" r="3.15" fill="#0000ff" stroke="#000050" stroke-width="1.0"/><circle cx="483.75" cy="791.5" r="3.15" fill="#0000ff" stroke="#000050" stroke-width="1.0"/><circle cx="540" cy="791.5" r="3.15" fill="#0000ff" stroke="#000050" stroke-width="1.0"/><circle cx="547.3" cy="791.5" r="3.15" fill="#0000ff" stroke="#000050" stroke-width="1.0"/><circle cx="553.5" cy="791.5" r="3.15" fill="#0000ff" stroke="#000050" stroke-width="1.0"/><circle cx="464.8" cy="791.5" r="3.15" fill="#0000ff" stroke="#000050" stroke-width="1.0"/><circle cx="565.6" cy="791.5" r="3.15" fill="#0000ff" stroke="#000050" stroke-width="1.0"/><circle cx="543.1" cy="791.5" r="3.15" fill="#0000ff" stroke="#000050" stroke-width="1.0"/><circle cx="528.5" cy="791.5" r="3.15" fill="#0000ff" stroke="#000050" stroke-width="1.0"/><circle cx="512.5" cy="791.5" r="3.15" fill="#0000ff" stroke="#000050" stroke-width="1.0"/><circle cx="506.7" cy="791.5" r="3.15" fill="#0000ff" stroke="#000050" stroke-width="1.0"/><circle cx="524.4" cy="791.5" r="3.15" fill="#0000ff" stroke="#000050" stroke-width="1.0"/><circle cx="487.9" cy="791.5" r="3.15" fill="#0000ff" stroke="#000050" stroke-width="1.0"/><circle cx="535.8" cy="791.5" r="3.15" fill="#0000ff" stroke="#000050" stroke-width="1.0"/><circle cx="492.1" cy="791.5" r="3.15" fill="#0000ff" stroke="#000050" stroke-width="1.0"/></g>
<line x1="460.4" y1="981.3" x2="460.4" y2="784.1" stroke="#7f7f7f" stroke-width="1.3" stroke-dasharray="6.3 4.61" stroke-dashoffset="0"/>
<line x1="496.7" y1="981.3" x2="496.7" y2="784.1" stroke="#7f7f7f" stroke-width="1.3" stroke-dasharray="6.3 4.61" stroke-dashoffset="0"/>
<line x1="344.5" y1="791.30" x2="349.5" y2="791.30" stroke="#222" stroke-width="1.1"/>
<text transform="translate(337.75,791.30) rotate(-90)" text-anchor="middle" font-size="12">1.0</text>
<line x1="344.5" y1="837.03" x2="349.5" y2="837.03" stroke="#222" stroke-width="1.1"/>
<text transform="translate(337.75,837.03) rotate(-90)" text-anchor="middle" font-size="12">0.5</text>
<line x1="344.5" y1="882.75" x2="349.5" y2="882.75" stroke="#222" stroke-width="1.1"/>
<text transform="translate(337.75,882.75) rotate(-90)" text-anchor="middle" font-size="12">0.0</text>
<line x1="344.5" y1="928.48" x2="349.5" y2="928.48" stroke="#222" stroke-width="1.1"/>
<text transform="translate(337.75,928.48) rotate(-90)" text-anchor="middle" font-size="12">−0.5</text>
<line x1="344.5" y1="974.20" x2="349.5" y2="974.20" stroke="#222" stroke-width="1.1"/>
<text transform="translate(337.75,974.20) rotate(-90)" text-anchor="middle" font-size="12">−1.0</text>
<text transform="translate(313.70,885.00) rotate(-90)" text-anchor="middle" font-size="13.35">N lim. <tspan font-family="Liberation Mono" font-size="20.5">←</tspan> N+P lim. <tspan font-family="Liberation Mono" font-size="20.5">→</tspan> P lim.</text>
<text x="309.80" y="795.90" font-size="17" font-weight="bold">G</text>
<line x1="359.10" y1="981.3" x2="359.10" y2="986.8" stroke="#222" stroke-width="1.1"/>
<text x="359.10" y="1001.10" text-anchor="middle" font-size="12">0.05</text>
<line x1="382.70" y1="981.3" x2="382.70" y2="986.8" stroke="#222" stroke-width="1.1"/>
<line x1="406.30" y1="981.3" x2="406.30" y2="986.8" stroke="#222" stroke-width="1.1"/>
<text x="406.30" y="1001.10" text-anchor="middle" font-size="12">0.20</text>
<line x1="437.50" y1="981.3" x2="437.50" y2="986.8" stroke="#222" stroke-width="1.1"/>
<line x1="461.10" y1="981.3" x2="461.10" y2="986.8" stroke="#222" stroke-width="1.1"/>
<text x="461.10" y="1001.10" text-anchor="middle" font-size="12">1.00</text>
<line x1="484.70" y1="981.3" x2="484.70" y2="986.8" stroke="#222" stroke-width="1.1"/>
<line x1="515.90" y1="981.3" x2="515.90" y2="986.8" stroke="#222" stroke-width="1.1"/>
<text x="515.90" y="1001.10" text-anchor="middle" font-size="12">5.00</text>
<line x1="539.50" y1="981.3" x2="539.50" y2="986.8" stroke="#222" stroke-width="1.1"/>
<line x1="563.10" y1="981.3" x2="563.10" y2="986.8" stroke="#222" stroke-width="1.1"/>
<text x="563.10" y="1001.10" text-anchor="middle" font-size="12">20.00</text>
<text x="464.40" y="1022.50" text-anchor="middle" font-size="13.2">PNB = (DIN:DIP) : (PON:POP)</text>
<rect x="81" y="829.3" width="143" height="96" fill="none" stroke="#222" stroke-width="1.2"/>
<circle cx="97.4" cy="849.20" r="2.8" fill="#ffffff" stroke="#8c8c8c" stroke-width="0.7"/>
<text x="107.6" y="852.70" font-size="12.8" stroke="#111" stroke-width="0.3">No limitation</text>
<circle cx="97.4" cy="869.30" r="2.8" fill="#ff0000" stroke="#7a0000" stroke-width="0.7"/>
<text x="107.6" y="872.80" font-size="12.8" stroke="#111" stroke-width="0.3">N limitation</text>
<circle cx="97.4" cy="889.40" r="2.8" fill="#ffff00" stroke="#666600" stroke-width="0.7"/>
<text x="107.6" y="892.90" font-size="12.8" stroke="#111" stroke-width="0.3">N+P limitation</text>
<circle cx="97.4" cy="909.50" r="2.8" fill="#0000ff" stroke="#000090" stroke-width="0.7"/>
<text x="107.6" y="913.00" font-size="12.8" stroke="#111" stroke-width="0.3">P limitation</text>
</svg></body></html>
